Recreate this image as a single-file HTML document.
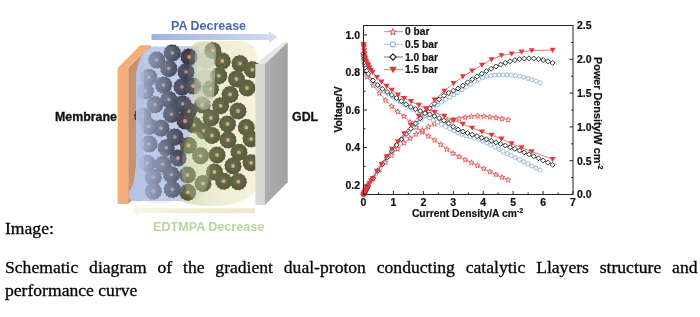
<!DOCTYPE html>
<html><head><meta charset="utf-8"><style>
html,body{margin:0;padding:0;background:#fff;}
body{width:700px;height:317px;position:relative;overflow:hidden;}
svg,.cap{will-change:transform;}
.cap{position:absolute;font-family:"Liberation Serif",serif;color:#000;-webkit-text-stroke:0.3px #000;}
</style></head><body>
<svg width="700" height="240" viewBox="0 0 700 240" style="position:absolute;left:0;top:0"><g><polyline points="363.50,53.67 364.40,62.18 365.60,71.65 367.09,76.63 373.23,85.20 379.36,92.93 385.50,99.95 391.63,106.06 397.77,111.46 403.90,116.04 410.04,121.80 416.17,127.11 422.31,131.75 428.44,135.93 434.58,139.87 440.72,144.29 446.85,149.02 452.99,153.17 459.12,156.44 465.26,159.45 471.39,162.35 477.53,165.27 483.66,168.40 489.80,171.46 495.93,174.32 502.07,177.06 508.20,179.66" fill="none" stroke="#dc4848" stroke-width="0.7"/><polyline points="363.50,194.50 364.40,192.77 365.60,190.69 367.09,188.19 373.23,178.42 379.36,169.75 385.50,162.03 391.63,155.04 397.77,148.66 403.90,142.68 410.04,138.03 416.17,133.96 422.31,130.19 428.44,126.74 434.58,123.71 440.72,121.71 446.85,120.66 452.99,119.69 459.12,118.33 465.26,117.12 471.39,116.22 477.53,115.78 483.66,116.07 489.80,116.70 495.93,117.48 502.07,118.48 508.20,119.65" fill="none" stroke="#dc4848" stroke-width="0.7"/><path d="M363.50,51.17 L364.21,53.00 L366.16,53.10 L364.64,54.34 L365.15,56.23 L363.50,55.17 L361.85,56.23 L362.36,54.34 L360.84,53.10 L362.79,53.00Z" fill="#fff" fill-opacity="0.6" stroke="#dc4848" stroke-width="0.8"/><path d="M363.50,192.00 L364.21,193.83 L366.16,193.93 L364.64,195.17 L365.15,197.07 L363.50,196.00 L361.85,197.07 L362.36,195.17 L360.84,193.93 L362.79,193.83Z" fill="#fff" fill-opacity="0.6" stroke="#dc4848" stroke-width="0.8"/><path d="M364.40,59.68 L365.10,61.51 L367.06,61.61 L365.54,62.85 L366.04,64.74 L364.40,63.68 L362.75,64.74 L363.26,62.85 L361.73,61.61 L363.69,61.51Z" fill="#fff" fill-opacity="0.6" stroke="#dc4848" stroke-width="0.8"/><path d="M364.40,190.27 L365.10,192.10 L367.06,192.20 L365.54,193.44 L366.04,195.33 L364.40,194.27 L362.75,195.33 L363.26,193.44 L361.73,192.20 L363.69,192.10Z" fill="#fff" fill-opacity="0.6" stroke="#dc4848" stroke-width="0.8"/><path d="M365.60,69.15 L366.30,70.98 L368.26,71.08 L366.74,72.32 L367.24,74.21 L365.60,73.15 L363.95,74.21 L364.45,72.32 L362.93,71.08 L364.89,70.98Z" fill="#fff" fill-opacity="0.6" stroke="#dc4848" stroke-width="0.8"/><path d="M365.60,188.19 L366.30,190.02 L368.26,190.13 L366.74,191.37 L367.24,193.26 L365.60,192.19 L363.95,193.26 L364.45,191.37 L362.93,190.13 L364.89,190.02Z" fill="#fff" fill-opacity="0.6" stroke="#dc4848" stroke-width="0.8"/><path d="M367.09,74.13 L367.80,75.96 L369.75,76.06 L368.23,77.30 L368.74,79.19 L367.09,78.13 L365.45,79.19 L365.95,77.30 L364.43,76.06 L366.39,75.96Z" fill="#fff" fill-opacity="0.6" stroke="#dc4848" stroke-width="0.8"/><path d="M367.09,185.69 L367.80,187.52 L369.75,187.63 L368.23,188.86 L368.74,190.76 L367.09,189.69 L365.45,190.76 L365.95,188.86 L364.43,187.63 L366.39,187.52Z" fill="#fff" fill-opacity="0.6" stroke="#dc4848" stroke-width="0.8"/><path d="M373.23,82.70 L373.93,84.53 L375.89,84.63 L374.37,85.87 L374.87,87.76 L373.23,86.70 L371.58,87.76 L372.09,85.87 L370.56,84.63 L372.52,84.53Z" fill="#fff" fill-opacity="0.6" stroke="#dc4848" stroke-width="0.8"/><path d="M373.23,175.92 L373.93,177.75 L375.89,177.85 L374.37,179.09 L374.87,180.98 L373.23,179.92 L371.58,180.98 L372.09,179.09 L370.56,177.85 L372.52,177.75Z" fill="#fff" fill-opacity="0.6" stroke="#dc4848" stroke-width="0.8"/><path d="M379.36,90.43 L380.07,92.26 L382.03,92.37 L380.50,93.60 L381.01,95.50 L379.36,94.43 L377.72,95.50 L378.22,93.60 L376.70,92.37 L378.66,92.26Z" fill="#fff" fill-opacity="0.6" stroke="#dc4848" stroke-width="0.8"/><path d="M379.36,167.25 L380.07,169.08 L382.03,169.18 L380.50,170.42 L381.01,172.31 L379.36,171.25 L377.72,172.31 L378.22,170.42 L376.70,169.18 L378.66,169.08Z" fill="#fff" fill-opacity="0.6" stroke="#dc4848" stroke-width="0.8"/><path d="M385.50,97.45 L386.20,99.28 L388.16,99.38 L386.64,100.62 L387.14,102.51 L385.50,101.45 L383.85,102.51 L384.36,100.62 L382.83,99.38 L384.79,99.28Z" fill="#fff" fill-opacity="0.6" stroke="#dc4848" stroke-width="0.8"/><path d="M385.50,159.53 L386.20,161.36 L388.16,161.46 L386.64,162.70 L387.14,164.59 L385.50,163.53 L383.85,164.59 L384.36,162.70 L382.83,161.46 L384.79,161.36Z" fill="#fff" fill-opacity="0.6" stroke="#dc4848" stroke-width="0.8"/><path d="M391.63,103.56 L392.34,105.39 L394.30,105.50 L392.77,106.74 L393.28,108.63 L391.63,107.56 L389.99,108.63 L390.49,106.74 L388.97,105.50 L390.93,105.39Z" fill="#fff" fill-opacity="0.6" stroke="#dc4848" stroke-width="0.8"/><path d="M391.63,152.54 L392.34,154.37 L394.30,154.48 L392.77,155.71 L393.28,157.61 L391.63,156.54 L389.99,157.61 L390.49,155.71 L388.97,154.48 L390.93,154.37Z" fill="#fff" fill-opacity="0.6" stroke="#dc4848" stroke-width="0.8"/><path d="M397.77,108.96 L398.47,110.79 L400.43,110.89 L398.91,112.13 L399.41,114.02 L397.77,112.96 L396.12,114.02 L396.63,112.13 L395.11,110.89 L397.06,110.79Z" fill="#fff" fill-opacity="0.6" stroke="#dc4848" stroke-width="0.8"/><path d="M397.77,146.16 L398.47,147.99 L400.43,148.09 L398.91,149.33 L399.41,151.23 L397.77,150.16 L396.12,151.23 L396.63,149.33 L395.11,148.09 L397.06,147.99Z" fill="#fff" fill-opacity="0.6" stroke="#dc4848" stroke-width="0.8"/><path d="M403.90,113.54 L404.61,115.37 L406.57,115.47 L405.04,116.71 L405.55,118.60 L403.90,117.54 L402.26,118.60 L402.76,116.71 L401.24,115.47 L403.20,115.37Z" fill="#fff" fill-opacity="0.6" stroke="#dc4848" stroke-width="0.8"/><path d="M403.90,140.18 L404.61,142.01 L406.57,142.11 L405.04,143.35 L405.55,145.24 L403.90,144.18 L402.26,145.24 L402.76,143.35 L401.24,142.11 L403.20,142.01Z" fill="#fff" fill-opacity="0.6" stroke="#dc4848" stroke-width="0.8"/><path d="M410.04,119.30 L410.74,121.13 L412.70,121.23 L411.18,122.47 L411.68,124.37 L410.04,123.30 L408.39,124.37 L408.90,122.47 L407.38,121.23 L409.33,121.13Z" fill="#fff" fill-opacity="0.6" stroke="#dc4848" stroke-width="0.8"/><path d="M410.04,135.53 L410.74,137.36 L412.70,137.47 L411.18,138.71 L411.68,140.60 L410.04,139.53 L408.39,140.60 L408.90,138.71 L407.38,137.47 L409.33,137.36Z" fill="#fff" fill-opacity="0.6" stroke="#dc4848" stroke-width="0.8"/><path d="M416.17,124.61 L416.88,126.44 L418.84,126.55 L417.32,127.79 L417.82,129.68 L416.17,128.61 L414.53,129.68 L415.03,127.79 L413.51,126.55 L415.47,126.44Z" fill="#fff" fill-opacity="0.6" stroke="#dc4848" stroke-width="0.8"/><path d="M416.17,131.46 L416.88,133.29 L418.84,133.39 L417.32,134.63 L417.82,136.52 L416.17,135.46 L414.53,136.52 L415.03,134.63 L413.51,133.39 L415.47,133.29Z" fill="#fff" fill-opacity="0.6" stroke="#dc4848" stroke-width="0.8"/><path d="M422.31,129.25 L423.01,131.08 L424.97,131.19 L423.45,132.43 L423.96,134.32 L422.31,133.25 L420.66,134.32 L421.17,132.43 L419.65,131.19 L421.60,131.08Z" fill="#fff" fill-opacity="0.6" stroke="#dc4848" stroke-width="0.8"/><path d="M422.31,127.69 L423.01,129.52 L424.97,129.62 L423.45,130.86 L423.96,132.75 L422.31,131.69 L420.66,132.75 L421.17,130.86 L419.65,129.62 L421.60,129.52Z" fill="#fff" fill-opacity="0.6" stroke="#dc4848" stroke-width="0.8"/><path d="M428.44,133.43 L429.15,135.26 L431.11,135.37 L429.59,136.60 L430.09,138.50 L428.44,137.43 L426.80,138.50 L427.30,136.60 L425.78,135.37 L427.74,135.26Z" fill="#fff" fill-opacity="0.6" stroke="#dc4848" stroke-width="0.8"/><path d="M428.44,124.24 L429.15,126.07 L431.11,126.18 L429.59,127.41 L430.09,129.31 L428.44,128.24 L426.80,129.31 L427.30,127.41 L425.78,126.18 L427.74,126.07Z" fill="#fff" fill-opacity="0.6" stroke="#dc4848" stroke-width="0.8"/><path d="M434.58,137.37 L435.29,139.20 L437.24,139.30 L435.72,140.54 L436.23,142.43 L434.58,141.37 L432.93,142.43 L433.44,140.54 L431.92,139.30 L433.88,139.20Z" fill="#fff" fill-opacity="0.6" stroke="#dc4848" stroke-width="0.8"/><path d="M434.58,121.21 L435.29,123.04 L437.24,123.14 L435.72,124.38 L436.23,126.27 L434.58,125.21 L432.93,126.27 L433.44,124.38 L431.92,123.14 L433.88,123.04Z" fill="#fff" fill-opacity="0.6" stroke="#dc4848" stroke-width="0.8"/><path d="M440.72,141.79 L441.42,143.62 L443.38,143.73 L441.86,144.96 L442.36,146.86 L440.72,145.79 L439.07,146.86 L439.57,144.96 L438.05,143.73 L440.01,143.62Z" fill="#fff" fill-opacity="0.6" stroke="#dc4848" stroke-width="0.8"/><path d="M440.72,119.21 L441.42,121.03 L443.38,121.14 L441.86,122.38 L442.36,124.27 L440.72,123.21 L439.07,124.27 L439.57,122.38 L438.05,121.14 L440.01,121.03Z" fill="#fff" fill-opacity="0.6" stroke="#dc4848" stroke-width="0.8"/><path d="M446.85,146.52 L447.56,148.35 L449.51,148.46 L447.99,149.69 L448.50,151.59 L446.85,150.52 L445.21,151.59 L445.71,149.69 L444.19,148.46 L446.15,148.35Z" fill="#fff" fill-opacity="0.6" stroke="#dc4848" stroke-width="0.8"/><path d="M446.85,118.16 L447.56,119.99 L449.51,120.10 L447.99,121.33 L448.50,123.23 L446.85,122.16 L445.21,123.23 L445.71,121.33 L444.19,120.10 L446.15,119.99Z" fill="#fff" fill-opacity="0.6" stroke="#dc4848" stroke-width="0.8"/><path d="M452.99,150.67 L453.69,152.50 L455.65,152.60 L454.13,153.84 L454.63,155.73 L452.99,154.67 L451.34,155.73 L451.85,153.84 L450.32,152.60 L452.28,152.50Z" fill="#fff" fill-opacity="0.6" stroke="#dc4848" stroke-width="0.8"/><path d="M452.99,117.19 L453.69,119.02 L455.65,119.13 L454.13,120.36 L454.63,122.26 L452.99,121.19 L451.34,122.26 L451.85,120.36 L450.32,119.13 L452.28,119.02Z" fill="#fff" fill-opacity="0.6" stroke="#dc4848" stroke-width="0.8"/><path d="M459.12,153.94 L459.83,155.77 L461.78,155.88 L460.26,157.11 L460.77,159.01 L459.12,157.94 L457.48,159.01 L457.98,157.11 L456.46,155.88 L458.42,155.77Z" fill="#fff" fill-opacity="0.6" stroke="#dc4848" stroke-width="0.8"/><path d="M459.12,115.83 L459.83,117.66 L461.78,117.77 L460.26,119.00 L460.77,120.90 L459.12,119.83 L457.48,120.90 L457.98,119.00 L456.46,117.77 L458.42,117.66Z" fill="#fff" fill-opacity="0.6" stroke="#dc4848" stroke-width="0.8"/><path d="M465.26,156.95 L465.96,158.78 L467.92,158.89 L466.40,160.12 L466.90,162.02 L465.26,160.95 L463.61,162.02 L464.12,160.12 L462.59,158.89 L464.55,158.78Z" fill="#fff" fill-opacity="0.6" stroke="#dc4848" stroke-width="0.8"/><path d="M465.26,114.62 L465.96,116.45 L467.92,116.56 L466.40,117.79 L466.90,119.69 L465.26,118.62 L463.61,119.69 L464.12,117.79 L462.59,116.56 L464.55,116.45Z" fill="#fff" fill-opacity="0.6" stroke="#dc4848" stroke-width="0.8"/><path d="M471.39,159.85 L472.10,161.68 L474.06,161.78 L472.53,163.02 L473.04,164.91 L471.39,163.85 L469.75,164.91 L470.25,163.02 L468.73,161.78 L470.69,161.68Z" fill="#fff" fill-opacity="0.6" stroke="#dc4848" stroke-width="0.8"/><path d="M471.39,113.72 L472.10,115.55 L474.06,115.65 L472.53,116.89 L473.04,118.78 L471.39,117.72 L469.75,118.78 L470.25,116.89 L468.73,115.65 L470.69,115.55Z" fill="#fff" fill-opacity="0.6" stroke="#dc4848" stroke-width="0.8"/><path d="M477.53,162.77 L478.23,164.60 L480.19,164.71 L478.67,165.94 L479.17,167.84 L477.53,166.77 L475.88,167.84 L476.39,165.94 L474.86,164.71 L476.82,164.60Z" fill="#fff" fill-opacity="0.6" stroke="#dc4848" stroke-width="0.8"/><path d="M477.53,113.28 L478.23,115.11 L480.19,115.21 L478.67,116.45 L479.17,118.35 L477.53,117.28 L475.88,118.35 L476.39,116.45 L474.86,115.21 L476.82,115.11Z" fill="#fff" fill-opacity="0.6" stroke="#dc4848" stroke-width="0.8"/><path d="M483.66,165.90 L484.37,167.73 L486.33,167.84 L484.80,169.07 L485.31,170.97 L483.66,169.90 L482.02,170.97 L482.52,169.07 L481.00,167.84 L482.96,167.73Z" fill="#fff" fill-opacity="0.6" stroke="#dc4848" stroke-width="0.8"/><path d="M483.66,113.57 L484.37,115.40 L486.33,115.50 L484.80,116.74 L485.31,118.63 L483.66,117.57 L482.02,118.63 L482.52,116.74 L481.00,115.50 L482.96,115.40Z" fill="#fff" fill-opacity="0.6" stroke="#dc4848" stroke-width="0.8"/><path d="M489.80,168.96 L490.50,170.79 L492.46,170.89 L490.94,172.13 L491.44,174.02 L489.80,172.96 L488.15,174.02 L488.66,172.13 L487.14,170.89 L489.09,170.79Z" fill="#fff" fill-opacity="0.6" stroke="#dc4848" stroke-width="0.8"/><path d="M489.80,114.20 L490.50,116.03 L492.46,116.14 L490.94,117.37 L491.44,119.27 L489.80,118.20 L488.15,119.27 L488.66,117.37 L487.14,116.14 L489.09,116.03Z" fill="#fff" fill-opacity="0.6" stroke="#dc4848" stroke-width="0.8"/><path d="M495.93,171.82 L496.64,173.64 L498.60,173.75 L497.08,174.99 L497.58,176.88 L495.93,175.82 L494.29,176.88 L494.79,174.99 L493.27,173.75 L495.23,173.64Z" fill="#fff" fill-opacity="0.6" stroke="#dc4848" stroke-width="0.8"/><path d="M495.93,114.98 L496.64,116.81 L498.60,116.91 L497.08,118.15 L497.58,120.04 L495.93,118.98 L494.29,120.04 L494.79,118.15 L493.27,116.91 L495.23,116.81Z" fill="#fff" fill-opacity="0.6" stroke="#dc4848" stroke-width="0.8"/><path d="M502.07,174.56 L502.77,176.38 L504.73,176.49 L503.21,177.73 L503.72,179.62 L502.07,178.56 L500.42,179.62 L500.93,177.73 L499.41,176.49 L501.36,176.38Z" fill="#fff" fill-opacity="0.6" stroke="#dc4848" stroke-width="0.8"/><path d="M502.07,115.98 L502.77,117.80 L504.73,117.91 L503.21,119.15 L503.72,121.04 L502.07,119.98 L500.42,121.04 L500.93,119.15 L499.41,117.91 L501.36,117.80Z" fill="#fff" fill-opacity="0.6" stroke="#dc4848" stroke-width="0.8"/><path d="M508.20,177.16 L508.91,178.99 L510.87,179.10 L509.35,180.34 L509.85,182.23 L508.20,181.16 L506.56,182.23 L507.06,180.34 L505.54,179.10 L507.50,178.99Z" fill="#fff" fill-opacity="0.6" stroke="#dc4848" stroke-width="0.8"/><path d="M508.20,117.15 L508.91,118.98 L510.87,119.09 L509.35,120.32 L509.85,122.22 L508.20,121.15 L506.56,122.22 L507.06,120.32 L505.54,119.09 L507.50,118.98Z" fill="#fff" fill-opacity="0.6" stroke="#dc4848" stroke-width="0.8"/><polyline points="363.50,57.42 363.80,59.61 364.10,61.74 364.70,65.44 365.30,67.94 365.89,69.98 366.79,72.58 367.61,74.52 371.71,80.72 375.82,84.68 379.93,88.04 384.03,91.09 388.14,93.82 392.25,96.44 396.35,99.13 400.46,101.85 404.56,104.51 408.67,107.05 412.78,109.43 416.88,111.68 420.99,113.83 425.10,115.93 429.20,117.99 433.31,120.04 437.42,122.12 441.52,124.27 445.63,126.53 449.74,128.78 453.84,130.92 457.95,132.83 462.06,134.42 466.16,135.68 470.27,136.79 474.37,137.95 478.48,139.35 482.59,141.05 486.69,142.97 490.80,145.05 494.91,147.21 499.01,149.39 503.12,151.50 507.23,153.54 511.33,155.59 515.44,157.64 519.55,159.70 523.65,161.76 527.76,163.83 531.87,165.91 535.97,168.00 540.08,170.09" fill="none" stroke="#8cb6d6" stroke-width="0.7"/><polyline points="363.50,194.50 363.80,193.91 364.10,193.34 364.70,192.24 365.30,191.16 365.89,190.10 366.79,188.56 367.61,187.18 371.71,180.48 375.82,174.05 379.93,167.90 384.03,162.00 388.14,156.31 392.25,150.85 396.35,145.68 400.46,140.79 404.56,136.14 408.67,131.68 412.78,127.38 416.88,123.23 420.99,119.24 425.10,115.41 429.20,111.77 433.31,108.32 437.42,105.10 441.52,102.16 445.63,99.53 449.74,97.11 453.84,94.80 457.95,92.44 462.06,89.88 466.16,87.08 470.27,84.21 474.37,81.52 478.48,79.27 482.59,77.59 486.69,76.41 490.80,75.65 494.91,75.23 499.01,75.05 503.12,74.98 507.23,75.00 511.33,75.22 515.44,75.66 519.55,76.31 523.65,77.18 527.76,78.26 531.87,79.56 535.97,81.08 540.08,82.82" fill="none" stroke="#8cb6d6" stroke-width="0.7"/><circle cx="363.50" cy="57.42" r="2.05" fill="#fff" stroke="#8cb6d6" stroke-width="0.9"/><circle cx="363.50" cy="194.50" r="2.05" fill="#fff" stroke="#8cb6d6" stroke-width="0.9"/><circle cx="363.80" cy="59.61" r="2.05" fill="#fff" stroke="#8cb6d6" stroke-width="0.9"/><circle cx="363.80" cy="193.91" r="2.05" fill="#fff" stroke="#8cb6d6" stroke-width="0.9"/><circle cx="364.10" cy="61.74" r="2.05" fill="#fff" stroke="#8cb6d6" stroke-width="0.9"/><circle cx="364.10" cy="193.34" r="2.05" fill="#fff" stroke="#8cb6d6" stroke-width="0.9"/><circle cx="364.70" cy="65.44" r="2.05" fill="#fff" stroke="#8cb6d6" stroke-width="0.9"/><circle cx="364.70" cy="192.24" r="2.05" fill="#fff" stroke="#8cb6d6" stroke-width="0.9"/><circle cx="365.30" cy="67.94" r="2.05" fill="#fff" stroke="#8cb6d6" stroke-width="0.9"/><circle cx="365.30" cy="191.16" r="2.05" fill="#fff" stroke="#8cb6d6" stroke-width="0.9"/><circle cx="365.89" cy="69.98" r="2.05" fill="#fff" stroke="#8cb6d6" stroke-width="0.9"/><circle cx="365.89" cy="190.10" r="2.05" fill="#fff" stroke="#8cb6d6" stroke-width="0.9"/><circle cx="366.79" cy="72.58" r="2.05" fill="#fff" stroke="#8cb6d6" stroke-width="0.9"/><circle cx="366.79" cy="188.56" r="2.05" fill="#fff" stroke="#8cb6d6" stroke-width="0.9"/><circle cx="367.61" cy="74.52" r="2.05" fill="#fff" stroke="#8cb6d6" stroke-width="0.9"/><circle cx="367.61" cy="187.18" r="2.05" fill="#fff" stroke="#8cb6d6" stroke-width="0.9"/><circle cx="371.71" cy="80.72" r="2.05" fill="#fff" stroke="#8cb6d6" stroke-width="0.9"/><circle cx="371.71" cy="180.48" r="2.05" fill="#fff" stroke="#8cb6d6" stroke-width="0.9"/><circle cx="375.82" cy="84.68" r="2.05" fill="#fff" stroke="#8cb6d6" stroke-width="0.9"/><circle cx="375.82" cy="174.05" r="2.05" fill="#fff" stroke="#8cb6d6" stroke-width="0.9"/><circle cx="379.93" cy="88.04" r="2.05" fill="#fff" stroke="#8cb6d6" stroke-width="0.9"/><circle cx="379.93" cy="167.90" r="2.05" fill="#fff" stroke="#8cb6d6" stroke-width="0.9"/><circle cx="384.03" cy="91.09" r="2.05" fill="#fff" stroke="#8cb6d6" stroke-width="0.9"/><circle cx="384.03" cy="162.00" r="2.05" fill="#fff" stroke="#8cb6d6" stroke-width="0.9"/><circle cx="388.14" cy="93.82" r="2.05" fill="#fff" stroke="#8cb6d6" stroke-width="0.9"/><circle cx="388.14" cy="156.31" r="2.05" fill="#fff" stroke="#8cb6d6" stroke-width="0.9"/><circle cx="392.25" cy="96.44" r="2.05" fill="#fff" stroke="#8cb6d6" stroke-width="0.9"/><circle cx="392.25" cy="150.85" r="2.05" fill="#fff" stroke="#8cb6d6" stroke-width="0.9"/><circle cx="396.35" cy="99.13" r="2.05" fill="#fff" stroke="#8cb6d6" stroke-width="0.9"/><circle cx="396.35" cy="145.68" r="2.05" fill="#fff" stroke="#8cb6d6" stroke-width="0.9"/><circle cx="400.46" cy="101.85" r="2.05" fill="#fff" stroke="#8cb6d6" stroke-width="0.9"/><circle cx="400.46" cy="140.79" r="2.05" fill="#fff" stroke="#8cb6d6" stroke-width="0.9"/><circle cx="404.56" cy="104.51" r="2.05" fill="#fff" stroke="#8cb6d6" stroke-width="0.9"/><circle cx="404.56" cy="136.14" r="2.05" fill="#fff" stroke="#8cb6d6" stroke-width="0.9"/><circle cx="408.67" cy="107.05" r="2.05" fill="#fff" stroke="#8cb6d6" stroke-width="0.9"/><circle cx="408.67" cy="131.68" r="2.05" fill="#fff" stroke="#8cb6d6" stroke-width="0.9"/><circle cx="412.78" cy="109.43" r="2.05" fill="#fff" stroke="#8cb6d6" stroke-width="0.9"/><circle cx="412.78" cy="127.38" r="2.05" fill="#fff" stroke="#8cb6d6" stroke-width="0.9"/><circle cx="416.88" cy="111.68" r="2.05" fill="#fff" stroke="#8cb6d6" stroke-width="0.9"/><circle cx="416.88" cy="123.23" r="2.05" fill="#fff" stroke="#8cb6d6" stroke-width="0.9"/><circle cx="420.99" cy="113.83" r="2.05" fill="#fff" stroke="#8cb6d6" stroke-width="0.9"/><circle cx="420.99" cy="119.24" r="2.05" fill="#fff" stroke="#8cb6d6" stroke-width="0.9"/><circle cx="425.10" cy="115.93" r="2.05" fill="#fff" stroke="#8cb6d6" stroke-width="0.9"/><circle cx="425.10" cy="115.41" r="2.05" fill="#fff" stroke="#8cb6d6" stroke-width="0.9"/><circle cx="429.20" cy="117.99" r="2.05" fill="#fff" stroke="#8cb6d6" stroke-width="0.9"/><circle cx="429.20" cy="111.77" r="2.05" fill="#fff" stroke="#8cb6d6" stroke-width="0.9"/><circle cx="433.31" cy="120.04" r="2.05" fill="#fff" stroke="#8cb6d6" stroke-width="0.9"/><circle cx="433.31" cy="108.32" r="2.05" fill="#fff" stroke="#8cb6d6" stroke-width="0.9"/><circle cx="437.42" cy="122.12" r="2.05" fill="#fff" stroke="#8cb6d6" stroke-width="0.9"/><circle cx="437.42" cy="105.10" r="2.05" fill="#fff" stroke="#8cb6d6" stroke-width="0.9"/><circle cx="441.52" cy="124.27" r="2.05" fill="#fff" stroke="#8cb6d6" stroke-width="0.9"/><circle cx="441.52" cy="102.16" r="2.05" fill="#fff" stroke="#8cb6d6" stroke-width="0.9"/><circle cx="445.63" cy="126.53" r="2.05" fill="#fff" stroke="#8cb6d6" stroke-width="0.9"/><circle cx="445.63" cy="99.53" r="2.05" fill="#fff" stroke="#8cb6d6" stroke-width="0.9"/><circle cx="449.74" cy="128.78" r="2.05" fill="#fff" stroke="#8cb6d6" stroke-width="0.9"/><circle cx="449.74" cy="97.11" r="2.05" fill="#fff" stroke="#8cb6d6" stroke-width="0.9"/><circle cx="453.84" cy="130.92" r="2.05" fill="#fff" stroke="#8cb6d6" stroke-width="0.9"/><circle cx="453.84" cy="94.80" r="2.05" fill="#fff" stroke="#8cb6d6" stroke-width="0.9"/><circle cx="457.95" cy="132.83" r="2.05" fill="#fff" stroke="#8cb6d6" stroke-width="0.9"/><circle cx="457.95" cy="92.44" r="2.05" fill="#fff" stroke="#8cb6d6" stroke-width="0.9"/><circle cx="462.06" cy="134.42" r="2.05" fill="#fff" stroke="#8cb6d6" stroke-width="0.9"/><circle cx="462.06" cy="89.88" r="2.05" fill="#fff" stroke="#8cb6d6" stroke-width="0.9"/><circle cx="466.16" cy="135.68" r="2.05" fill="#fff" stroke="#8cb6d6" stroke-width="0.9"/><circle cx="466.16" cy="87.08" r="2.05" fill="#fff" stroke="#8cb6d6" stroke-width="0.9"/><circle cx="470.27" cy="136.79" r="2.05" fill="#fff" stroke="#8cb6d6" stroke-width="0.9"/><circle cx="470.27" cy="84.21" r="2.05" fill="#fff" stroke="#8cb6d6" stroke-width="0.9"/><circle cx="474.37" cy="137.95" r="2.05" fill="#fff" stroke="#8cb6d6" stroke-width="0.9"/><circle cx="474.37" cy="81.52" r="2.05" fill="#fff" stroke="#8cb6d6" stroke-width="0.9"/><circle cx="478.48" cy="139.35" r="2.05" fill="#fff" stroke="#8cb6d6" stroke-width="0.9"/><circle cx="478.48" cy="79.27" r="2.05" fill="#fff" stroke="#8cb6d6" stroke-width="0.9"/><circle cx="482.59" cy="141.05" r="2.05" fill="#fff" stroke="#8cb6d6" stroke-width="0.9"/><circle cx="482.59" cy="77.59" r="2.05" fill="#fff" stroke="#8cb6d6" stroke-width="0.9"/><circle cx="486.69" cy="142.97" r="2.05" fill="#fff" stroke="#8cb6d6" stroke-width="0.9"/><circle cx="486.69" cy="76.41" r="2.05" fill="#fff" stroke="#8cb6d6" stroke-width="0.9"/><circle cx="490.80" cy="145.05" r="2.05" fill="#fff" stroke="#8cb6d6" stroke-width="0.9"/><circle cx="490.80" cy="75.65" r="2.05" fill="#fff" stroke="#8cb6d6" stroke-width="0.9"/><circle cx="494.91" cy="147.21" r="2.05" fill="#fff" stroke="#8cb6d6" stroke-width="0.9"/><circle cx="494.91" cy="75.23" r="2.05" fill="#fff" stroke="#8cb6d6" stroke-width="0.9"/><circle cx="499.01" cy="149.39" r="2.05" fill="#fff" stroke="#8cb6d6" stroke-width="0.9"/><circle cx="499.01" cy="75.05" r="2.05" fill="#fff" stroke="#8cb6d6" stroke-width="0.9"/><circle cx="503.12" cy="151.50" r="2.05" fill="#fff" stroke="#8cb6d6" stroke-width="0.9"/><circle cx="503.12" cy="74.98" r="2.05" fill="#fff" stroke="#8cb6d6" stroke-width="0.9"/><circle cx="507.23" cy="153.54" r="2.05" fill="#fff" stroke="#8cb6d6" stroke-width="0.9"/><circle cx="507.23" cy="75.00" r="2.05" fill="#fff" stroke="#8cb6d6" stroke-width="0.9"/><circle cx="511.33" cy="155.59" r="2.05" fill="#fff" stroke="#8cb6d6" stroke-width="0.9"/><circle cx="511.33" cy="75.22" r="2.05" fill="#fff" stroke="#8cb6d6" stroke-width="0.9"/><circle cx="515.44" cy="157.64" r="2.05" fill="#fff" stroke="#8cb6d6" stroke-width="0.9"/><circle cx="515.44" cy="75.66" r="2.05" fill="#fff" stroke="#8cb6d6" stroke-width="0.9"/><circle cx="519.55" cy="159.70" r="2.05" fill="#fff" stroke="#8cb6d6" stroke-width="0.9"/><circle cx="519.55" cy="76.31" r="2.05" fill="#fff" stroke="#8cb6d6" stroke-width="0.9"/><circle cx="523.65" cy="161.76" r="2.05" fill="#fff" stroke="#8cb6d6" stroke-width="0.9"/><circle cx="523.65" cy="77.18" r="2.05" fill="#fff" stroke="#8cb6d6" stroke-width="0.9"/><circle cx="527.76" cy="163.83" r="2.05" fill="#fff" stroke="#8cb6d6" stroke-width="0.9"/><circle cx="527.76" cy="78.26" r="2.05" fill="#fff" stroke="#8cb6d6" stroke-width="0.9"/><circle cx="531.87" cy="165.91" r="2.05" fill="#fff" stroke="#8cb6d6" stroke-width="0.9"/><circle cx="531.87" cy="79.56" r="2.05" fill="#fff" stroke="#8cb6d6" stroke-width="0.9"/><circle cx="535.97" cy="168.00" r="2.05" fill="#fff" stroke="#8cb6d6" stroke-width="0.9"/><circle cx="535.97" cy="81.08" r="2.05" fill="#fff" stroke="#8cb6d6" stroke-width="0.9"/><circle cx="540.08" cy="170.09" r="2.05" fill="#fff" stroke="#8cb6d6" stroke-width="0.9"/><circle cx="540.08" cy="82.82" r="2.05" fill="#fff" stroke="#8cb6d6" stroke-width="0.9"/><polyline points="363.50,53.67 363.80,56.34 364.10,58.95 364.70,63.40 365.30,66.12 365.89,68.23 366.79,70.81 368.23,73.88 372.96,80.55 377.69,85.05 382.41,88.83 387.14,91.99 391.87,94.91 396.60,97.99 401.33,101.21 406.06,104.30 410.79,106.96 415.52,109.13 420.24,111.01 424.97,112.72 429.70,114.39 434.43,116.14 439.16,118.10 443.89,120.44 448.62,123.44 453.35,126.65 458.07,129.51 462.80,131.54 467.53,133.04 472.26,134.62 476.99,136.18 481.72,137.73 486.45,139.27 491.18,140.81 495.90,142.36 500.63,143.92 505.36,145.52 510.09,147.16 514.82,148.84 519.55,150.58 524.28,152.39 529.00,154.28 533.73,156.26 538.46,158.32 543.19,160.45 547.92,162.62 552.65,164.83" fill="none" stroke="#333" stroke-width="0.7"/><polyline points="363.50,194.50 363.80,193.90 364.10,193.32 364.70,192.21 365.30,191.12 365.89,190.05 366.79,188.49 368.23,186.04 372.96,178.33 377.69,171.02 382.41,164.05 387.14,157.34 391.87,150.90 396.60,144.86 401.33,139.23 406.06,133.91 410.79,128.68 415.52,123.46 420.24,118.29 424.97,113.20 429.70,108.28 434.43,103.61 439.16,99.34 443.89,95.65 448.62,92.90 453.35,90.73 458.07,88.53 462.80,85.65 467.53,82.35 472.26,79.31 476.99,76.44 481.72,73.72 486.45,71.16 491.18,68.78 495.90,66.59 500.63,64.61 505.36,62.86 510.09,61.36 514.82,60.13 519.55,59.20 524.28,58.59 529.00,58.36 533.73,58.53 538.46,59.09 543.19,60.01 547.92,61.29 552.65,62.91" fill="none" stroke="#333" stroke-width="0.7"/><path d="M363.50,51.17 l2.5,2.5 -2.5,2.5 -2.5,-2.5z" fill="#fff" stroke="#2a2a2a" stroke-width="0.95"/><path d="M363.50,192.00 l2.5,2.5 -2.5,2.5 -2.5,-2.5z" fill="#fff" stroke="#2a2a2a" stroke-width="0.95"/><path d="M363.80,53.84 l2.5,2.5 -2.5,2.5 -2.5,-2.5z" fill="#fff" stroke="#2a2a2a" stroke-width="0.95"/><path d="M363.80,191.40 l2.5,2.5 -2.5,2.5 -2.5,-2.5z" fill="#fff" stroke="#2a2a2a" stroke-width="0.95"/><path d="M364.10,56.45 l2.5,2.5 -2.5,2.5 -2.5,-2.5z" fill="#fff" stroke="#2a2a2a" stroke-width="0.95"/><path d="M364.10,190.82 l2.5,2.5 -2.5,2.5 -2.5,-2.5z" fill="#fff" stroke="#2a2a2a" stroke-width="0.95"/><path d="M364.70,60.90 l2.5,2.5 -2.5,2.5 -2.5,-2.5z" fill="#fff" stroke="#2a2a2a" stroke-width="0.95"/><path d="M364.70,189.71 l2.5,2.5 -2.5,2.5 -2.5,-2.5z" fill="#fff" stroke="#2a2a2a" stroke-width="0.95"/><path d="M365.30,63.62 l2.5,2.5 -2.5,2.5 -2.5,-2.5z" fill="#fff" stroke="#2a2a2a" stroke-width="0.95"/><path d="M365.30,188.62 l2.5,2.5 -2.5,2.5 -2.5,-2.5z" fill="#fff" stroke="#2a2a2a" stroke-width="0.95"/><path d="M365.89,65.73 l2.5,2.5 -2.5,2.5 -2.5,-2.5z" fill="#fff" stroke="#2a2a2a" stroke-width="0.95"/><path d="M365.89,187.55 l2.5,2.5 -2.5,2.5 -2.5,-2.5z" fill="#fff" stroke="#2a2a2a" stroke-width="0.95"/><path d="M366.79,68.31 l2.5,2.5 -2.5,2.5 -2.5,-2.5z" fill="#fff" stroke="#2a2a2a" stroke-width="0.95"/><path d="M366.79,185.99 l2.5,2.5 -2.5,2.5 -2.5,-2.5z" fill="#fff" stroke="#2a2a2a" stroke-width="0.95"/><path d="M368.23,71.38 l2.5,2.5 -2.5,2.5 -2.5,-2.5z" fill="#fff" stroke="#2a2a2a" stroke-width="0.95"/><path d="M368.23,183.54 l2.5,2.5 -2.5,2.5 -2.5,-2.5z" fill="#fff" stroke="#2a2a2a" stroke-width="0.95"/><path d="M372.96,78.05 l2.5,2.5 -2.5,2.5 -2.5,-2.5z" fill="#fff" stroke="#2a2a2a" stroke-width="0.95"/><path d="M372.96,175.83 l2.5,2.5 -2.5,2.5 -2.5,-2.5z" fill="#fff" stroke="#2a2a2a" stroke-width="0.95"/><path d="M377.69,82.55 l2.5,2.5 -2.5,2.5 -2.5,-2.5z" fill="#fff" stroke="#2a2a2a" stroke-width="0.95"/><path d="M377.69,168.52 l2.5,2.5 -2.5,2.5 -2.5,-2.5z" fill="#fff" stroke="#2a2a2a" stroke-width="0.95"/><path d="M382.41,86.33 l2.5,2.5 -2.5,2.5 -2.5,-2.5z" fill="#fff" stroke="#2a2a2a" stroke-width="0.95"/><path d="M382.41,161.55 l2.5,2.5 -2.5,2.5 -2.5,-2.5z" fill="#fff" stroke="#2a2a2a" stroke-width="0.95"/><path d="M387.14,89.49 l2.5,2.5 -2.5,2.5 -2.5,-2.5z" fill="#fff" stroke="#2a2a2a" stroke-width="0.95"/><path d="M387.14,154.84 l2.5,2.5 -2.5,2.5 -2.5,-2.5z" fill="#fff" stroke="#2a2a2a" stroke-width="0.95"/><path d="M391.87,92.41 l2.5,2.5 -2.5,2.5 -2.5,-2.5z" fill="#fff" stroke="#2a2a2a" stroke-width="0.95"/><path d="M391.87,148.40 l2.5,2.5 -2.5,2.5 -2.5,-2.5z" fill="#fff" stroke="#2a2a2a" stroke-width="0.95"/><path d="M396.60,95.49 l2.5,2.5 -2.5,2.5 -2.5,-2.5z" fill="#fff" stroke="#2a2a2a" stroke-width="0.95"/><path d="M396.60,142.36 l2.5,2.5 -2.5,2.5 -2.5,-2.5z" fill="#fff" stroke="#2a2a2a" stroke-width="0.95"/><path d="M401.33,98.71 l2.5,2.5 -2.5,2.5 -2.5,-2.5z" fill="#fff" stroke="#2a2a2a" stroke-width="0.95"/><path d="M401.33,136.73 l2.5,2.5 -2.5,2.5 -2.5,-2.5z" fill="#fff" stroke="#2a2a2a" stroke-width="0.95"/><path d="M406.06,101.80 l2.5,2.5 -2.5,2.5 -2.5,-2.5z" fill="#fff" stroke="#2a2a2a" stroke-width="0.95"/><path d="M406.06,131.41 l2.5,2.5 -2.5,2.5 -2.5,-2.5z" fill="#fff" stroke="#2a2a2a" stroke-width="0.95"/><path d="M410.79,104.46 l2.5,2.5 -2.5,2.5 -2.5,-2.5z" fill="#fff" stroke="#2a2a2a" stroke-width="0.95"/><path d="M410.79,126.18 l2.5,2.5 -2.5,2.5 -2.5,-2.5z" fill="#fff" stroke="#2a2a2a" stroke-width="0.95"/><path d="M415.52,106.63 l2.5,2.5 -2.5,2.5 -2.5,-2.5z" fill="#fff" stroke="#2a2a2a" stroke-width="0.95"/><path d="M415.52,120.96 l2.5,2.5 -2.5,2.5 -2.5,-2.5z" fill="#fff" stroke="#2a2a2a" stroke-width="0.95"/><path d="M420.24,108.51 l2.5,2.5 -2.5,2.5 -2.5,-2.5z" fill="#fff" stroke="#2a2a2a" stroke-width="0.95"/><path d="M420.24,115.79 l2.5,2.5 -2.5,2.5 -2.5,-2.5z" fill="#fff" stroke="#2a2a2a" stroke-width="0.95"/><path d="M424.97,110.22 l2.5,2.5 -2.5,2.5 -2.5,-2.5z" fill="#fff" stroke="#2a2a2a" stroke-width="0.95"/><path d="M424.97,110.70 l2.5,2.5 -2.5,2.5 -2.5,-2.5z" fill="#fff" stroke="#2a2a2a" stroke-width="0.95"/><path d="M429.70,111.89 l2.5,2.5 -2.5,2.5 -2.5,-2.5z" fill="#fff" stroke="#2a2a2a" stroke-width="0.95"/><path d="M429.70,105.78 l2.5,2.5 -2.5,2.5 -2.5,-2.5z" fill="#fff" stroke="#2a2a2a" stroke-width="0.95"/><path d="M434.43,113.64 l2.5,2.5 -2.5,2.5 -2.5,-2.5z" fill="#fff" stroke="#2a2a2a" stroke-width="0.95"/><path d="M434.43,101.11 l2.5,2.5 -2.5,2.5 -2.5,-2.5z" fill="#fff" stroke="#2a2a2a" stroke-width="0.95"/><path d="M439.16,115.60 l2.5,2.5 -2.5,2.5 -2.5,-2.5z" fill="#fff" stroke="#2a2a2a" stroke-width="0.95"/><path d="M439.16,96.84 l2.5,2.5 -2.5,2.5 -2.5,-2.5z" fill="#fff" stroke="#2a2a2a" stroke-width="0.95"/><path d="M443.89,117.94 l2.5,2.5 -2.5,2.5 -2.5,-2.5z" fill="#fff" stroke="#2a2a2a" stroke-width="0.95"/><path d="M443.89,93.15 l2.5,2.5 -2.5,2.5 -2.5,-2.5z" fill="#fff" stroke="#2a2a2a" stroke-width="0.95"/><path d="M448.62,120.94 l2.5,2.5 -2.5,2.5 -2.5,-2.5z" fill="#fff" stroke="#2a2a2a" stroke-width="0.95"/><path d="M448.62,90.40 l2.5,2.5 -2.5,2.5 -2.5,-2.5z" fill="#fff" stroke="#2a2a2a" stroke-width="0.95"/><path d="M453.35,124.15 l2.5,2.5 -2.5,2.5 -2.5,-2.5z" fill="#fff" stroke="#2a2a2a" stroke-width="0.95"/><path d="M453.35,88.23 l2.5,2.5 -2.5,2.5 -2.5,-2.5z" fill="#fff" stroke="#2a2a2a" stroke-width="0.95"/><path d="M458.07,127.01 l2.5,2.5 -2.5,2.5 -2.5,-2.5z" fill="#fff" stroke="#2a2a2a" stroke-width="0.95"/><path d="M458.07,86.03 l2.5,2.5 -2.5,2.5 -2.5,-2.5z" fill="#fff" stroke="#2a2a2a" stroke-width="0.95"/><path d="M462.80,129.04 l2.5,2.5 -2.5,2.5 -2.5,-2.5z" fill="#fff" stroke="#2a2a2a" stroke-width="0.95"/><path d="M462.80,83.15 l2.5,2.5 -2.5,2.5 -2.5,-2.5z" fill="#fff" stroke="#2a2a2a" stroke-width="0.95"/><path d="M467.53,130.54 l2.5,2.5 -2.5,2.5 -2.5,-2.5z" fill="#fff" stroke="#2a2a2a" stroke-width="0.95"/><path d="M467.53,79.85 l2.5,2.5 -2.5,2.5 -2.5,-2.5z" fill="#fff" stroke="#2a2a2a" stroke-width="0.95"/><path d="M472.26,132.12 l2.5,2.5 -2.5,2.5 -2.5,-2.5z" fill="#fff" stroke="#2a2a2a" stroke-width="0.95"/><path d="M472.26,76.81 l2.5,2.5 -2.5,2.5 -2.5,-2.5z" fill="#fff" stroke="#2a2a2a" stroke-width="0.95"/><path d="M476.99,133.68 l2.5,2.5 -2.5,2.5 -2.5,-2.5z" fill="#fff" stroke="#2a2a2a" stroke-width="0.95"/><path d="M476.99,73.94 l2.5,2.5 -2.5,2.5 -2.5,-2.5z" fill="#fff" stroke="#2a2a2a" stroke-width="0.95"/><path d="M481.72,135.23 l2.5,2.5 -2.5,2.5 -2.5,-2.5z" fill="#fff" stroke="#2a2a2a" stroke-width="0.95"/><path d="M481.72,71.22 l2.5,2.5 -2.5,2.5 -2.5,-2.5z" fill="#fff" stroke="#2a2a2a" stroke-width="0.95"/><path d="M486.45,136.77 l2.5,2.5 -2.5,2.5 -2.5,-2.5z" fill="#fff" stroke="#2a2a2a" stroke-width="0.95"/><path d="M486.45,68.66 l2.5,2.5 -2.5,2.5 -2.5,-2.5z" fill="#fff" stroke="#2a2a2a" stroke-width="0.95"/><path d="M491.18,138.31 l2.5,2.5 -2.5,2.5 -2.5,-2.5z" fill="#fff" stroke="#2a2a2a" stroke-width="0.95"/><path d="M491.18,66.28 l2.5,2.5 -2.5,2.5 -2.5,-2.5z" fill="#fff" stroke="#2a2a2a" stroke-width="0.95"/><path d="M495.90,139.86 l2.5,2.5 -2.5,2.5 -2.5,-2.5z" fill="#fff" stroke="#2a2a2a" stroke-width="0.95"/><path d="M495.90,64.09 l2.5,2.5 -2.5,2.5 -2.5,-2.5z" fill="#fff" stroke="#2a2a2a" stroke-width="0.95"/><path d="M500.63,141.42 l2.5,2.5 -2.5,2.5 -2.5,-2.5z" fill="#fff" stroke="#2a2a2a" stroke-width="0.95"/><path d="M500.63,62.11 l2.5,2.5 -2.5,2.5 -2.5,-2.5z" fill="#fff" stroke="#2a2a2a" stroke-width="0.95"/><path d="M505.36,143.02 l2.5,2.5 -2.5,2.5 -2.5,-2.5z" fill="#fff" stroke="#2a2a2a" stroke-width="0.95"/><path d="M505.36,60.36 l2.5,2.5 -2.5,2.5 -2.5,-2.5z" fill="#fff" stroke="#2a2a2a" stroke-width="0.95"/><path d="M510.09,144.66 l2.5,2.5 -2.5,2.5 -2.5,-2.5z" fill="#fff" stroke="#2a2a2a" stroke-width="0.95"/><path d="M510.09,58.86 l2.5,2.5 -2.5,2.5 -2.5,-2.5z" fill="#fff" stroke="#2a2a2a" stroke-width="0.95"/><path d="M514.82,146.34 l2.5,2.5 -2.5,2.5 -2.5,-2.5z" fill="#fff" stroke="#2a2a2a" stroke-width="0.95"/><path d="M514.82,57.63 l2.5,2.5 -2.5,2.5 -2.5,-2.5z" fill="#fff" stroke="#2a2a2a" stroke-width="0.95"/><path d="M519.55,148.08 l2.5,2.5 -2.5,2.5 -2.5,-2.5z" fill="#fff" stroke="#2a2a2a" stroke-width="0.95"/><path d="M519.55,56.70 l2.5,2.5 -2.5,2.5 -2.5,-2.5z" fill="#fff" stroke="#2a2a2a" stroke-width="0.95"/><path d="M524.28,149.89 l2.5,2.5 -2.5,2.5 -2.5,-2.5z" fill="#fff" stroke="#2a2a2a" stroke-width="0.95"/><path d="M524.28,56.09 l2.5,2.5 -2.5,2.5 -2.5,-2.5z" fill="#fff" stroke="#2a2a2a" stroke-width="0.95"/><path d="M529.00,151.78 l2.5,2.5 -2.5,2.5 -2.5,-2.5z" fill="#fff" stroke="#2a2a2a" stroke-width="0.95"/><path d="M529.00,55.86 l2.5,2.5 -2.5,2.5 -2.5,-2.5z" fill="#fff" stroke="#2a2a2a" stroke-width="0.95"/><path d="M533.73,153.76 l2.5,2.5 -2.5,2.5 -2.5,-2.5z" fill="#fff" stroke="#2a2a2a" stroke-width="0.95"/><path d="M533.73,56.03 l2.5,2.5 -2.5,2.5 -2.5,-2.5z" fill="#fff" stroke="#2a2a2a" stroke-width="0.95"/><path d="M538.46,155.82 l2.5,2.5 -2.5,2.5 -2.5,-2.5z" fill="#fff" stroke="#2a2a2a" stroke-width="0.95"/><path d="M538.46,56.59 l2.5,2.5 -2.5,2.5 -2.5,-2.5z" fill="#fff" stroke="#2a2a2a" stroke-width="0.95"/><path d="M543.19,157.95 l2.5,2.5 -2.5,2.5 -2.5,-2.5z" fill="#fff" stroke="#2a2a2a" stroke-width="0.95"/><path d="M543.19,57.51 l2.5,2.5 -2.5,2.5 -2.5,-2.5z" fill="#fff" stroke="#2a2a2a" stroke-width="0.95"/><path d="M547.92,160.12 l2.5,2.5 -2.5,2.5 -2.5,-2.5z" fill="#fff" stroke="#2a2a2a" stroke-width="0.95"/><path d="M547.92,58.79 l2.5,2.5 -2.5,2.5 -2.5,-2.5z" fill="#fff" stroke="#2a2a2a" stroke-width="0.95"/><path d="M552.65,162.33 l2.5,2.5 -2.5,2.5 -2.5,-2.5z" fill="#fff" stroke="#2a2a2a" stroke-width="0.95"/><path d="M552.65,60.41 l2.5,2.5 -2.5,2.5 -2.5,-2.5z" fill="#fff" stroke="#2a2a2a" stroke-width="0.95"/><polyline points="363.50,44.28 363.65,45.87 363.80,47.47 364.10,50.61 364.40,53.45 364.85,56.71 365.30,58.55 365.89,60.45 366.49,61.97 367.39,63.77 368.29,65.30 369.49,67.46 370.98,70.04 372.48,72.26 376.97,77.39 381.46,81.85 386.55,86.11 391.93,90.05 397.92,94.86 404.20,98.31 411.09,101.34 418.87,105.15 426.35,108.94 434.73,112.18 444.31,116.13 453.58,120.10 462.86,124.08 472.14,127.96 482.02,131.78 491.59,135.08 501.47,138.92 511.65,143.67 521.52,147.66 531.70,151.50 552.65,159.20" fill="none" stroke="#e0393b" stroke-width="0.7"/><polyline points="363.50,194.50 363.65,194.18 363.80,193.87 364.10,193.26 364.40,192.67 364.85,191.81 365.30,190.96 365.89,189.83 366.49,188.71 367.39,187.06 368.29,185.44 369.49,183.33 370.98,180.76 372.48,178.26 376.97,170.96 381.46,164.08 386.55,156.65 391.93,149.15 397.92,141.59 404.20,133.62 411.09,125.05 418.87,116.23 426.35,108.52 434.73,99.83 444.31,90.95 453.58,83.36 462.86,76.67 472.14,70.74 482.02,64.94 491.59,59.55 501.47,55.51 511.65,53.73 521.52,51.92 531.70,50.51 552.65,50.10" fill="none" stroke="#e0393b" stroke-width="0.7"/><path d="M360.50,41.98 h6.0 l-3.0,5.1z" fill="#e0393b"/><path d="M360.50,192.20 h6.0 l-3.0,5.1z" fill="#e0393b"/><path d="M360.65,43.57 h6.0 l-3.0,5.1z" fill="#e0393b"/><path d="M360.65,191.88 h6.0 l-3.0,5.1z" fill="#e0393b"/><path d="M360.80,45.17 h6.0 l-3.0,5.1z" fill="#e0393b"/><path d="M360.80,191.57 h6.0 l-3.0,5.1z" fill="#e0393b"/><path d="M361.10,48.31 h6.0 l-3.0,5.1z" fill="#e0393b"/><path d="M361.10,190.96 h6.0 l-3.0,5.1z" fill="#e0393b"/><path d="M361.40,51.15 h6.0 l-3.0,5.1z" fill="#e0393b"/><path d="M361.40,190.37 h6.0 l-3.0,5.1z" fill="#e0393b"/><path d="M361.85,54.41 h6.0 l-3.0,5.1z" fill="#e0393b"/><path d="M361.85,189.51 h6.0 l-3.0,5.1z" fill="#e0393b"/><path d="M362.30,56.25 h6.0 l-3.0,5.1z" fill="#e0393b"/><path d="M362.30,188.66 h6.0 l-3.0,5.1z" fill="#e0393b"/><path d="M362.89,58.15 h6.0 l-3.0,5.1z" fill="#e0393b"/><path d="M362.89,187.53 h6.0 l-3.0,5.1z" fill="#e0393b"/><path d="M363.49,59.67 h6.0 l-3.0,5.1z" fill="#e0393b"/><path d="M363.49,186.41 h6.0 l-3.0,5.1z" fill="#e0393b"/><path d="M364.39,61.47 h6.0 l-3.0,5.1z" fill="#e0393b"/><path d="M364.39,184.76 h6.0 l-3.0,5.1z" fill="#e0393b"/><path d="M365.29,63.00 h6.0 l-3.0,5.1z" fill="#e0393b"/><path d="M365.29,183.14 h6.0 l-3.0,5.1z" fill="#e0393b"/><path d="M366.49,65.16 h6.0 l-3.0,5.1z" fill="#e0393b"/><path d="M366.49,181.03 h6.0 l-3.0,5.1z" fill="#e0393b"/><path d="M367.98,67.74 h6.0 l-3.0,5.1z" fill="#e0393b"/><path d="M367.98,178.46 h6.0 l-3.0,5.1z" fill="#e0393b"/><path d="M369.48,69.96 h6.0 l-3.0,5.1z" fill="#e0393b"/><path d="M369.48,175.96 h6.0 l-3.0,5.1z" fill="#e0393b"/><path d="M373.97,75.09 h6.0 l-3.0,5.1z" fill="#e0393b"/><path d="M373.97,168.66 h6.0 l-3.0,5.1z" fill="#e0393b"/><path d="M378.46,79.55 h6.0 l-3.0,5.1z" fill="#e0393b"/><path d="M378.46,161.78 h6.0 l-3.0,5.1z" fill="#e0393b"/><path d="M383.55,83.81 h6.0 l-3.0,5.1z" fill="#e0393b"/><path d="M383.55,154.35 h6.0 l-3.0,5.1z" fill="#e0393b"/><path d="M388.93,87.75 h6.0 l-3.0,5.1z" fill="#e0393b"/><path d="M388.93,146.85 h6.0 l-3.0,5.1z" fill="#e0393b"/><path d="M394.92,92.56 h6.0 l-3.0,5.1z" fill="#e0393b"/><path d="M394.92,139.29 h6.0 l-3.0,5.1z" fill="#e0393b"/><path d="M401.20,96.01 h6.0 l-3.0,5.1z" fill="#e0393b"/><path d="M401.20,131.32 h6.0 l-3.0,5.1z" fill="#e0393b"/><path d="M408.09,99.04 h6.0 l-3.0,5.1z" fill="#e0393b"/><path d="M408.09,122.75 h6.0 l-3.0,5.1z" fill="#e0393b"/><path d="M415.87,102.85 h6.0 l-3.0,5.1z" fill="#e0393b"/><path d="M415.87,113.93 h6.0 l-3.0,5.1z" fill="#e0393b"/><path d="M423.35,106.64 h6.0 l-3.0,5.1z" fill="#e0393b"/><path d="M423.35,106.22 h6.0 l-3.0,5.1z" fill="#e0393b"/><path d="M431.73,109.88 h6.0 l-3.0,5.1z" fill="#e0393b"/><path d="M431.73,97.53 h6.0 l-3.0,5.1z" fill="#e0393b"/><path d="M441.31,113.83 h6.0 l-3.0,5.1z" fill="#e0393b"/><path d="M441.31,88.65 h6.0 l-3.0,5.1z" fill="#e0393b"/><path d="M450.58,117.80 h6.0 l-3.0,5.1z" fill="#e0393b"/><path d="M450.58,81.06 h6.0 l-3.0,5.1z" fill="#e0393b"/><path d="M459.86,121.78 h6.0 l-3.0,5.1z" fill="#e0393b"/><path d="M459.86,74.37 h6.0 l-3.0,5.1z" fill="#e0393b"/><path d="M469.14,125.66 h6.0 l-3.0,5.1z" fill="#e0393b"/><path d="M469.14,68.44 h6.0 l-3.0,5.1z" fill="#e0393b"/><path d="M479.02,129.48 h6.0 l-3.0,5.1z" fill="#e0393b"/><path d="M479.02,62.64 h6.0 l-3.0,5.1z" fill="#e0393b"/><path d="M488.59,132.78 h6.0 l-3.0,5.1z" fill="#e0393b"/><path d="M488.59,57.25 h6.0 l-3.0,5.1z" fill="#e0393b"/><path d="M498.47,136.62 h6.0 l-3.0,5.1z" fill="#e0393b"/><path d="M498.47,53.21 h6.0 l-3.0,5.1z" fill="#e0393b"/><path d="M508.65,141.37 h6.0 l-3.0,5.1z" fill="#e0393b"/><path d="M508.65,51.43 h6.0 l-3.0,5.1z" fill="#e0393b"/><path d="M518.52,145.36 h6.0 l-3.0,5.1z" fill="#e0393b"/><path d="M518.52,49.62 h6.0 l-3.0,5.1z" fill="#e0393b"/><path d="M528.70,149.20 h6.0 l-3.0,5.1z" fill="#e0393b"/><path d="M528.70,48.21 h6.0 l-3.0,5.1z" fill="#e0393b"/><path d="M549.65,156.90 h6.0 l-3.0,5.1z" fill="#e0393b"/><path d="M549.65,47.80 h6.0 l-3.0,5.1z" fill="#e0393b"/></g><rect x="363.5" y="25.5" width="209.5" height="169.0" fill="none" stroke="#222" stroke-width="1"/><line x1="363.50" y1="194.5" x2="363.50" y2="191.0" stroke="#222" stroke-width="1"/><line x1="378.46" y1="194.5" x2="378.46" y2="192.5" stroke="#222" stroke-width="1"/><line x1="393.43" y1="194.5" x2="393.43" y2="191.0" stroke="#222" stroke-width="1"/><line x1="408.39" y1="194.5" x2="408.39" y2="192.5" stroke="#222" stroke-width="1"/><line x1="423.36" y1="194.5" x2="423.36" y2="191.0" stroke="#222" stroke-width="1"/><line x1="438.32" y1="194.5" x2="438.32" y2="192.5" stroke="#222" stroke-width="1"/><line x1="453.29" y1="194.5" x2="453.29" y2="191.0" stroke="#222" stroke-width="1"/><line x1="468.25" y1="194.5" x2="468.25" y2="192.5" stroke="#222" stroke-width="1"/><line x1="483.21" y1="194.5" x2="483.21" y2="191.0" stroke="#222" stroke-width="1"/><line x1="498.18" y1="194.5" x2="498.18" y2="192.5" stroke="#222" stroke-width="1"/><line x1="513.14" y1="194.5" x2="513.14" y2="191.0" stroke="#222" stroke-width="1"/><line x1="528.11" y1="194.5" x2="528.11" y2="192.5" stroke="#222" stroke-width="1"/><line x1="543.07" y1="194.5" x2="543.07" y2="191.0" stroke="#222" stroke-width="1"/><line x1="558.04" y1="194.5" x2="558.04" y2="192.5" stroke="#222" stroke-width="1"/><line x1="573.00" y1="194.5" x2="573.00" y2="191.0" stroke="#222" stroke-width="1"/><line x1="363.5" y1="185.11" x2="367.0" y2="185.11" stroke="#222" stroke-width="1"/><line x1="363.5" y1="166.33" x2="365.5" y2="166.33" stroke="#222" stroke-width="1"/><line x1="363.5" y1="147.56" x2="367.0" y2="147.56" stroke="#222" stroke-width="1"/><line x1="363.5" y1="128.78" x2="365.5" y2="128.78" stroke="#222" stroke-width="1"/><line x1="363.5" y1="110.00" x2="367.0" y2="110.00" stroke="#222" stroke-width="1"/><line x1="363.5" y1="91.22" x2="365.5" y2="91.22" stroke="#222" stroke-width="1"/><line x1="363.5" y1="72.44" x2="367.0" y2="72.44" stroke="#222" stroke-width="1"/><line x1="363.5" y1="53.67" x2="365.5" y2="53.67" stroke="#222" stroke-width="1"/><line x1="363.5" y1="34.89" x2="367.0" y2="34.89" stroke="#222" stroke-width="1"/><line x1="573.0" y1="194.50" x2="569.5" y2="194.50" stroke="#222" stroke-width="1"/><line x1="573.0" y1="177.60" x2="571.0" y2="177.60" stroke="#222" stroke-width="1"/><line x1="573.0" y1="160.70" x2="569.5" y2="160.70" stroke="#222" stroke-width="1"/><line x1="573.0" y1="143.80" x2="571.0" y2="143.80" stroke="#222" stroke-width="1"/><line x1="573.0" y1="126.90" x2="569.5" y2="126.90" stroke="#222" stroke-width="1"/><line x1="573.0" y1="110.00" x2="571.0" y2="110.00" stroke="#222" stroke-width="1"/><line x1="573.0" y1="93.10" x2="569.5" y2="93.10" stroke="#222" stroke-width="1"/><line x1="573.0" y1="76.20" x2="571.0" y2="76.20" stroke="#222" stroke-width="1"/><line x1="573.0" y1="59.30" x2="569.5" y2="59.30" stroke="#222" stroke-width="1"/><line x1="573.0" y1="42.40" x2="571.0" y2="42.40" stroke="#222" stroke-width="1"/><line x1="573.0" y1="25.50" x2="569.5" y2="25.50" stroke="#222" stroke-width="1"/><text x="363.50" y="206.3" font-family="Liberation Sans" font-weight="bold" stroke="#111" stroke-width="0.2" font-size="10.5" text-anchor="middle" fill="#111">0</text><text x="393.43" y="206.3" font-family="Liberation Sans" font-weight="bold" stroke="#111" stroke-width="0.2" font-size="10.5" text-anchor="middle" fill="#111">1</text><text x="423.36" y="206.3" font-family="Liberation Sans" font-weight="bold" stroke="#111" stroke-width="0.2" font-size="10.5" text-anchor="middle" fill="#111">2</text><text x="453.29" y="206.3" font-family="Liberation Sans" font-weight="bold" stroke="#111" stroke-width="0.2" font-size="10.5" text-anchor="middle" fill="#111">3</text><text x="483.21" y="206.3" font-family="Liberation Sans" font-weight="bold" stroke="#111" stroke-width="0.2" font-size="10.5" text-anchor="middle" fill="#111">4</text><text x="513.14" y="206.3" font-family="Liberation Sans" font-weight="bold" stroke="#111" stroke-width="0.2" font-size="10.5" text-anchor="middle" fill="#111">5</text><text x="543.07" y="206.3" font-family="Liberation Sans" font-weight="bold" stroke="#111" stroke-width="0.2" font-size="10.5" text-anchor="middle" fill="#111">6</text><text x="573.00" y="206.3" font-family="Liberation Sans" font-weight="bold" stroke="#111" stroke-width="0.2" font-size="10.5" text-anchor="middle" fill="#111">7</text><text x="360" y="188.91" font-family="Liberation Sans" font-weight="bold" stroke="#111" stroke-width="0.2" font-size="10.5" text-anchor="end" fill="#111">0.2</text><text x="360" y="151.36" font-family="Liberation Sans" font-weight="bold" stroke="#111" stroke-width="0.2" font-size="10.5" text-anchor="end" fill="#111">0.4</text><text x="360" y="113.80" font-family="Liberation Sans" font-weight="bold" stroke="#111" stroke-width="0.2" font-size="10.5" text-anchor="end" fill="#111">0.6</text><text x="360" y="76.24" font-family="Liberation Sans" font-weight="bold" stroke="#111" stroke-width="0.2" font-size="10.5" text-anchor="end" fill="#111">0.8</text><text x="360" y="38.69" font-family="Liberation Sans" font-weight="bold" stroke="#111" stroke-width="0.2" font-size="10.5" text-anchor="end" fill="#111">1.0</text><text x="577" y="198.30" font-family="Liberation Sans" font-weight="bold" stroke="#111" stroke-width="0.2" font-size="10.5" fill="#111">0.0</text><text x="577" y="164.50" font-family="Liberation Sans" font-weight="bold" stroke="#111" stroke-width="0.2" font-size="10.5" fill="#111">0.5</text><text x="577" y="130.70" font-family="Liberation Sans" font-weight="bold" stroke="#111" stroke-width="0.2" font-size="10.5" fill="#111">1.0</text><text x="577" y="96.90" font-family="Liberation Sans" font-weight="bold" stroke="#111" stroke-width="0.2" font-size="10.5" fill="#111">1.5</text><text x="577" y="63.10" font-family="Liberation Sans" font-weight="bold" stroke="#111" stroke-width="0.2" font-size="10.5" fill="#111">2.0</text><text x="577" y="29.30" font-family="Liberation Sans" font-weight="bold" stroke="#111" stroke-width="0.2" font-size="10.5" fill="#111">2.5</text><text x="467.5" y="216.8" font-family="Liberation Sans" font-weight="bold" stroke="#111" stroke-width="0.2" font-size="10.3" text-anchor="middle" fill="#111">Current Density/A cm<tspan dy="-4" font-size="7">-2</tspan></text><text transform="translate(341.5,109.5) rotate(-90)" font-family="Liberation Sans" font-weight="bold" stroke="#111" stroke-width="0.2" font-size="10.3" text-anchor="middle" fill="#111">Voltage/V</text><text transform="translate(594.3,113.3) rotate(90)" font-family="Liberation Sans" font-weight="bold" stroke="#111" stroke-width="0.2" font-size="10.8" text-anchor="middle" fill="#111">Power Density/W cm<tspan dy="-4" font-size="7">-2</tspan></text><line x1="384" y1="31.70" x2="403" y2="31.70" stroke="#dc4848" stroke-width="0.7"/><g transform="translate(393,31.70) scale(1.25)"><path d="M0.00,-2.50 L0.71,-0.67 L2.66,-0.57 L1.14,0.67 L1.65,2.57 L0.00,1.50 L-1.65,2.57 L-1.14,0.67 L-2.66,-0.57 L-0.71,-0.67Z" fill="#fff" fill-opacity="0.6" stroke="#dc4848" stroke-width="0.8"/></g><text x="405" y="35.30" font-family="Liberation Sans" font-weight="bold" stroke="#111" stroke-width="0.2" font-size="10.2" fill="#111">0 bar</text><line x1="384" y1="44.35" x2="403" y2="44.35" stroke="#8cb6d6" stroke-width="0.7"/><g transform="translate(393,44.35) scale(1.25)"><circle cx="0.00" cy="0.00" r="2.05" fill="#fff" stroke="#8cb6d6" stroke-width="0.9"/></g><text x="405" y="47.95" font-family="Liberation Sans" font-weight="bold" stroke="#111" stroke-width="0.2" font-size="10.2" fill="#111">0.5 bar</text><line x1="384" y1="57.00" x2="403" y2="57.00" stroke="#333" stroke-width="0.7"/><g transform="translate(393,57.00) scale(1.25)"><path d="M0.00,-2.50 l2.5,2.5 -2.5,2.5 -2.5,-2.5z" fill="#fff" stroke="#2a2a2a" stroke-width="0.95"/></g><text x="405" y="60.60" font-family="Liberation Sans" font-weight="bold" stroke="#111" stroke-width="0.2" font-size="10.2" fill="#111">1.0 bar</text><line x1="384" y1="69.65" x2="403" y2="69.65" stroke="#e0393b" stroke-width="0.7"/><g transform="translate(393,69.65) scale(1.25)"><path d="M-3.00,-2.30 h6.0 l-3.0,5.1z" fill="#e0393b"/></g><text x="405" y="73.25" font-family="Liberation Sans" font-weight="bold" stroke="#111" stroke-width="0.2" font-size="10.2" fill="#111">1.5 bar</text><defs>
<radialGradient id="gsB" cx="0.45" cy="0.42" r="0.58"><stop offset="0" stop-color="#4a5064"/><stop offset="0.8" stop-color="#363c4e"/><stop offset="1" stop-color="#2e3242"/></radialGradient>
<radialGradient id="gsY" cx="0.45" cy="0.42" r="0.58"><stop offset="0" stop-color="#545a3c"/><stop offset="0.8" stop-color="#444a2e"/><stop offset="1" stop-color="#3a3e27"/></radialGradient>
<radialGradient id="gsD" cx="0.45" cy="0.42" r="0.58"><stop offset="0" stop-color="#48424e"/><stop offset="0.8" stop-color="#33303a"/><stop offset="1" stop-color="#2a2630"/></radialGradient>
<g id="spB"><path d="M8.86,0.89 L7.49,2.52 L7.59,4.64 L5.65,5.52 L4.83,7.48 L2.70,7.42 L1.10,8.83 L-0.79,7.86 L-2.84,8.44 L-4.12,6.74 L-6.22,6.37 L-6.64,4.28 L-8.36,3.04 L-7.84,0.98 L-8.86,-0.89 L-7.49,-2.52 L-7.59,-4.64 L-5.65,-5.52 L-4.83,-7.48 L-2.70,-7.42 L-1.10,-8.83 L0.79,-7.86 L2.84,-8.44 L4.12,-6.74 L6.22,-6.37 L6.64,-4.28 L8.36,-3.04 L7.84,-0.98Z" fill="#353a4a"/><circle r="8.2" fill="url(#gsB)"/><circle r="1.8" fill="#b88a7c"/></g>
<g id="spY"><path d="M8.86,0.89 L7.49,2.52 L7.59,4.64 L5.65,5.52 L4.83,7.48 L2.70,7.42 L1.10,8.83 L-0.79,7.86 L-2.84,8.44 L-4.12,6.74 L-6.22,6.37 L-6.64,4.28 L-8.36,3.04 L-7.84,0.98 L-8.86,-0.89 L-7.49,-2.52 L-7.59,-4.64 L-5.65,-5.52 L-4.83,-7.48 L-2.70,-7.42 L-1.10,-8.83 L0.79,-7.86 L2.84,-8.44 L4.12,-6.74 L6.22,-6.37 L6.64,-4.28 L8.36,-3.04 L7.84,-0.98Z" fill="#6a5a38"/><circle r="8.2" fill="url(#gsY)"/><circle r="1.9" fill="#d8a060"/></g>
<g id="spD"><path d="M8.86,0.89 L7.49,2.52 L7.59,4.64 L5.65,5.52 L4.83,7.48 L2.70,7.42 L1.10,8.83 L-0.79,7.86 L-2.84,8.44 L-4.12,6.74 L-6.22,6.37 L-6.64,4.28 L-8.36,3.04 L-7.84,0.98 L-8.86,-0.89 L-7.49,-2.52 L-7.59,-4.64 L-5.65,-5.52 L-4.83,-7.48 L-2.70,-7.42 L-1.10,-8.83 L0.79,-7.86 L2.84,-8.44 L4.12,-6.74 L6.22,-6.37 L6.64,-4.28 L8.36,-3.04 L7.84,-0.98Z" fill="#2c2832"/><circle r="8.2" fill="url(#gsD)"/><circle r="1.9" fill="#e08a6a"/></g>
<linearGradient id="blueOv" gradientUnits="userSpaceOnUse" x1="136" x2="200" y1="0" y2="0"><stop offset="0" stop-color="#b8c6e8" stop-opacity="0.9"/><stop offset="0.25" stop-color="#bccaea" stop-opacity="0.55"/><stop offset="0.6" stop-color="#c8d2ee" stop-opacity="0.15"/><stop offset="0.85" stop-color="#d0d8f0" stop-opacity="0.0"/></linearGradient>
<linearGradient id="yelOv" gradientUnits="userSpaceOnUse" x1="180" x2="258" y1="0" y2="0"><stop offset="0" stop-color="#c8d6a8" stop-opacity="0.0"/><stop offset="0.2" stop-color="#c8d6a8" stop-opacity="0.3"/><stop offset="0.5" stop-color="#dfe2b8" stop-opacity="0.15"/><stop offset="1" stop-color="#f4eec8" stop-opacity="0.12"/></linearGradient>
<linearGradient id="yelBg" x1="0" x2="1" y1="0" y2="0"><stop offset="0" stop-color="#dce4c6"/><stop offset="0.35" stop-color="#f0eed8"/><stop offset="1" stop-color="#f6f2de"/></linearGradient>
<linearGradient id="gdlSide" x1="0" x2="1" y1="0" y2="0"><stop offset="0" stop-color="#adadad"/><stop offset="1" stop-color="#a2a2a2"/></linearGradient>
<linearGradient id="gdlFront" x1="0" x2="1" y1="0" y2="0"><stop offset="0" stop-color="#dcdad4"/><stop offset="1" stop-color="#d4d4d4"/></linearGradient>
<linearGradient id="arrB" x1="0" x2="1" y1="0" y2="0"><stop offset="0" stop-color="#9fb2df"/><stop offset="1" stop-color="#d3dcf1"/></linearGradient>
<linearGradient id="arrG" x1="0" x2="1" y1="0" y2="0"><stop offset="0" stop-color="#f3f5e6"/><stop offset="1" stop-color="#ede8c6"/></linearGradient>
<radialGradient id="paleG" cx="0.5" cy="0.5" r="0.5"><stop offset="0" stop-color="#c4cab2" stop-opacity="0.9"/><stop offset="1" stop-color="#c4cab2" stop-opacity="0.7"/></radialGradient>
</defs><path d="M255.3,64.0 L283.0,42.3 L287.7,42.3 L265.0,64.0Z" fill="#e6e6e6"/><path d="M265.0,64.0 L287.7,42.3 L287.7,182.3 L265.0,205.0Z" fill="url(#gdlSide)"/><path d="M128.2,68.0 L150.89999999999998,45.3 L150.89999999999998,181.3 L128.2,204.0Z" fill="#c8906c"/><path d="M117.6,68.0 L140.29999999999998,45.3 L150.89999999999998,45.3 L128.2,68.0Z" fill="#f4ae78"/><rect x="117.6" y="68.0" width="10.599999999999994" height="136.0" fill="#f6ae7a"/><path d="M190,52 Q191,41 203,41 L240,41 Q258,42 258,62 L258,186 Q250,204 216,206 Q184,206 176,198 Z" fill="url(#yelBg)"/><path d="M136,166 L136,76 Q139,50 154,47 L196,46 Q199,46 199,52 L182,201 L134,201 Q129,200 129,196 L129,192 Q135,185 136,166 Z" fill="#c0cce8"/><g transform="translate(212.8,50.6)"><path d="M8.86,0.89 L7.49,2.52 L7.59,4.64 L5.65,5.52 L4.83,7.48 L2.70,7.42 L1.10,8.83 L-0.79,7.86 L-2.84,8.44 L-4.12,6.74 L-6.22,6.37 L-6.64,4.28 L-8.36,3.04 L-7.84,0.98 L-8.86,-0.89 L-7.49,-2.52 L-7.59,-4.64 L-5.65,-5.52 L-4.83,-7.48 L-2.70,-7.42 L-1.10,-8.83 L0.79,-7.86 L2.84,-8.44 L4.12,-6.74 L6.22,-6.37 L6.64,-4.28 L8.36,-3.04 L7.84,-0.98Z" fill="#6a5a38"/><circle r="8.2" fill="url(#gsY)"/><circle r="1.9" fill="#d8a060"/></g><g transform="translate(222.3,61.0)"><path d="M8.86,0.89 L7.49,2.52 L7.59,4.64 L5.65,5.52 L4.83,7.48 L2.70,7.42 L1.10,8.83 L-0.79,7.86 L-2.84,8.44 L-4.12,6.74 L-6.22,6.37 L-6.64,4.28 L-8.36,3.04 L-7.84,0.98 L-8.86,-0.89 L-7.49,-2.52 L-7.59,-4.64 L-5.65,-5.52 L-4.83,-7.48 L-2.70,-7.42 L-1.10,-8.83 L0.79,-7.86 L2.84,-8.44 L4.12,-6.74 L6.22,-6.37 L6.64,-4.28 L8.36,-3.04 L7.84,-0.98Z" fill="#6a5a38"/><circle r="8.2" fill="url(#gsY)"/><circle r="1.9" fill="#d8a060"/></g><g transform="translate(240.0,63.6)"><path d="M8.86,0.89 L7.49,2.52 L7.59,4.64 L5.65,5.52 L4.83,7.48 L2.70,7.42 L1.10,8.83 L-0.79,7.86 L-2.84,8.44 L-4.12,6.74 L-6.22,6.37 L-6.64,4.28 L-8.36,3.04 L-7.84,0.98 L-8.86,-0.89 L-7.49,-2.52 L-7.59,-4.64 L-5.65,-5.52 L-4.83,-7.48 L-2.70,-7.42 L-1.10,-8.83 L0.79,-7.86 L2.84,-8.44 L4.12,-6.74 L6.22,-6.37 L6.64,-4.28 L8.36,-3.04 L7.84,-0.98Z" fill="#6a5a38"/><circle r="8.2" fill="url(#gsY)"/><circle r="1.9" fill="#d8a060"/></g><g transform="translate(252.3,69.7)"><path d="M8.86,0.89 L7.49,2.52 L7.59,4.64 L5.65,5.52 L4.83,7.48 L2.70,7.42 L1.10,8.83 L-0.79,7.86 L-2.84,8.44 L-4.12,6.74 L-6.22,6.37 L-6.64,4.28 L-8.36,3.04 L-7.84,0.98 L-8.86,-0.89 L-7.49,-2.52 L-7.59,-4.64 L-5.65,-5.52 L-4.83,-7.48 L-2.70,-7.42 L-1.10,-8.83 L0.79,-7.86 L2.84,-8.44 L4.12,-6.74 L6.22,-6.37 L6.64,-4.28 L8.36,-3.04 L7.84,-0.98Z" fill="#6a5a38"/><circle r="8.2" fill="url(#gsY)"/><circle r="1.9" fill="#d8a060"/></g><g transform="translate(218.8,75.8)"><path d="M8.86,0.89 L7.49,2.52 L7.59,4.64 L5.65,5.52 L4.83,7.48 L2.70,7.42 L1.10,8.83 L-0.79,7.86 L-2.84,8.44 L-4.12,6.74 L-6.22,6.37 L-6.64,4.28 L-8.36,3.04 L-7.84,0.98 L-8.86,-0.89 L-7.49,-2.52 L-7.59,-4.64 L-5.65,-5.52 L-4.83,-7.48 L-2.70,-7.42 L-1.10,-8.83 L0.79,-7.86 L2.84,-8.44 L4.12,-6.74 L6.22,-6.37 L6.64,-4.28 L8.36,-3.04 L7.84,-0.98Z" fill="#6a5a38"/><circle r="8.2" fill="url(#gsY)"/><circle r="1.9" fill="#d8a060"/></g><g transform="translate(236.5,79.0)"><path d="M8.86,0.89 L7.49,2.52 L7.59,4.64 L5.65,5.52 L4.83,7.48 L2.70,7.42 L1.10,8.83 L-0.79,7.86 L-2.84,8.44 L-4.12,6.74 L-6.22,6.37 L-6.64,4.28 L-8.36,3.04 L-7.84,0.98 L-8.86,-0.89 L-7.49,-2.52 L-7.59,-4.64 L-5.65,-5.52 L-4.83,-7.48 L-2.70,-7.42 L-1.10,-8.83 L0.79,-7.86 L2.84,-8.44 L4.12,-6.74 L6.22,-6.37 L6.64,-4.28 L8.36,-3.04 L7.84,-0.98Z" fill="#6a5a38"/><circle r="8.2" fill="url(#gsY)"/><circle r="1.9" fill="#d8a060"/></g><g transform="translate(247.0,88.0)"><path d="M8.86,0.89 L7.49,2.52 L7.59,4.64 L5.65,5.52 L4.83,7.48 L2.70,7.42 L1.10,8.83 L-0.79,7.86 L-2.84,8.44 L-4.12,6.74 L-6.22,6.37 L-6.64,4.28 L-8.36,3.04 L-7.84,0.98 L-8.86,-0.89 L-7.49,-2.52 L-7.59,-4.64 L-5.65,-5.52 L-4.83,-7.48 L-2.70,-7.42 L-1.10,-8.83 L0.79,-7.86 L2.84,-8.44 L4.12,-6.74 L6.22,-6.37 L6.64,-4.28 L8.36,-3.04 L7.84,-0.98Z" fill="#6a5a38"/><circle r="8.2" fill="url(#gsY)"/><circle r="1.9" fill="#d8a060"/></g><g transform="translate(210.5,89.0)"><path d="M8.86,0.89 L7.49,2.52 L7.59,4.64 L5.65,5.52 L4.83,7.48 L2.70,7.42 L1.10,8.83 L-0.79,7.86 L-2.84,8.44 L-4.12,6.74 L-6.22,6.37 L-6.64,4.28 L-8.36,3.04 L-7.84,0.98 L-8.86,-0.89 L-7.49,-2.52 L-7.59,-4.64 L-5.65,-5.52 L-4.83,-7.48 L-2.70,-7.42 L-1.10,-8.83 L0.79,-7.86 L2.84,-8.44 L4.12,-6.74 L6.22,-6.37 L6.64,-4.28 L8.36,-3.04 L7.84,-0.98Z" fill="#6a5a38"/><circle r="8.2" fill="url(#gsY)"/><circle r="1.9" fill="#d8a060"/></g><g transform="translate(230.1,94.5)"><path d="M8.86,0.89 L7.49,2.52 L7.59,4.64 L5.65,5.52 L4.83,7.48 L2.70,7.42 L1.10,8.83 L-0.79,7.86 L-2.84,8.44 L-4.12,6.74 L-6.22,6.37 L-6.64,4.28 L-8.36,3.04 L-7.84,0.98 L-8.86,-0.89 L-7.49,-2.52 L-7.59,-4.64 L-5.65,-5.52 L-4.83,-7.48 L-2.70,-7.42 L-1.10,-8.83 L0.79,-7.86 L2.84,-8.44 L4.12,-6.74 L6.22,-6.37 L6.64,-4.28 L8.36,-3.04 L7.84,-0.98Z" fill="#6a5a38"/><circle r="8.2" fill="url(#gsY)"/><circle r="1.9" fill="#d8a060"/></g><g transform="translate(202.3,105.0)"><path d="M8.86,0.89 L7.49,2.52 L7.59,4.64 L5.65,5.52 L4.83,7.48 L2.70,7.42 L1.10,8.83 L-0.79,7.86 L-2.84,8.44 L-4.12,6.74 L-6.22,6.37 L-6.64,4.28 L-8.36,3.04 L-7.84,0.98 L-8.86,-0.89 L-7.49,-2.52 L-7.59,-4.64 L-5.65,-5.52 L-4.83,-7.48 L-2.70,-7.42 L-1.10,-8.83 L0.79,-7.86 L2.84,-8.44 L4.12,-6.74 L6.22,-6.37 L6.64,-4.28 L8.36,-3.04 L7.84,-0.98Z" fill="#6a5a38"/><circle r="8.2" fill="url(#gsY)"/><circle r="1.9" fill="#d8a060"/></g><g transform="translate(220.6,105.8)"><path d="M8.86,0.89 L7.49,2.52 L7.59,4.64 L5.65,5.52 L4.83,7.48 L2.70,7.42 L1.10,8.83 L-0.79,7.86 L-2.84,8.44 L-4.12,6.74 L-6.22,6.37 L-6.64,4.28 L-8.36,3.04 L-7.84,0.98 L-8.86,-0.89 L-7.49,-2.52 L-7.59,-4.64 L-5.65,-5.52 L-4.83,-7.48 L-2.70,-7.42 L-1.10,-8.83 L0.79,-7.86 L2.84,-8.44 L4.12,-6.74 L6.22,-6.37 L6.64,-4.28 L8.36,-3.04 L7.84,-0.98Z" fill="#6a5a38"/><circle r="8.2" fill="url(#gsY)"/><circle r="1.9" fill="#d8a060"/></g><g transform="translate(238.0,111.0)"><path d="M8.86,0.89 L7.49,2.52 L7.59,4.64 L5.65,5.52 L4.83,7.48 L2.70,7.42 L1.10,8.83 L-0.79,7.86 L-2.84,8.44 L-4.12,6.74 L-6.22,6.37 L-6.64,4.28 L-8.36,3.04 L-7.84,0.98 L-8.86,-0.89 L-7.49,-2.52 L-7.59,-4.64 L-5.65,-5.52 L-4.83,-7.48 L-2.70,-7.42 L-1.10,-8.83 L0.79,-7.86 L2.84,-8.44 L4.12,-6.74 L6.22,-6.37 L6.64,-4.28 L8.36,-3.04 L7.84,-0.98Z" fill="#6a5a38"/><circle r="8.2" fill="url(#gsY)"/><circle r="1.9" fill="#d8a060"/></g><g transform="translate(211.0,118.0)"><path d="M8.86,0.89 L7.49,2.52 L7.59,4.64 L5.65,5.52 L4.83,7.48 L2.70,7.42 L1.10,8.83 L-0.79,7.86 L-2.84,8.44 L-4.12,6.74 L-6.22,6.37 L-6.64,4.28 L-8.36,3.04 L-7.84,0.98 L-8.86,-0.89 L-7.49,-2.52 L-7.59,-4.64 L-5.65,-5.52 L-4.83,-7.48 L-2.70,-7.42 L-1.10,-8.83 L0.79,-7.86 L2.84,-8.44 L4.12,-6.74 L6.22,-6.37 L6.64,-4.28 L8.36,-3.04 L7.84,-0.98Z" fill="#6a5a38"/><circle r="8.2" fill="url(#gsY)"/><circle r="1.9" fill="#d8a060"/></g><g transform="translate(227.5,124.0)"><path d="M8.86,0.89 L7.49,2.52 L7.59,4.64 L5.65,5.52 L4.83,7.48 L2.70,7.42 L1.10,8.83 L-0.79,7.86 L-2.84,8.44 L-4.12,6.74 L-6.22,6.37 L-6.64,4.28 L-8.36,3.04 L-7.84,0.98 L-8.86,-0.89 L-7.49,-2.52 L-7.59,-4.64 L-5.65,-5.52 L-4.83,-7.48 L-2.70,-7.42 L-1.10,-8.83 L0.79,-7.86 L2.84,-8.44 L4.12,-6.74 L6.22,-6.37 L6.64,-4.28 L8.36,-3.04 L7.84,-0.98Z" fill="#6a5a38"/><circle r="8.2" fill="url(#gsY)"/><circle r="1.9" fill="#d8a060"/></g><g transform="translate(193.7,124.9)"><path d="M8.86,0.89 L7.49,2.52 L7.59,4.64 L5.65,5.52 L4.83,7.48 L2.70,7.42 L1.10,8.83 L-0.79,7.86 L-2.84,8.44 L-4.12,6.74 L-6.22,6.37 L-6.64,4.28 L-8.36,3.04 L-7.84,0.98 L-8.86,-0.89 L-7.49,-2.52 L-7.59,-4.64 L-5.65,-5.52 L-4.83,-7.48 L-2.70,-7.42 L-1.10,-8.83 L0.79,-7.86 L2.84,-8.44 L4.12,-6.74 L6.22,-6.37 L6.64,-4.28 L8.36,-3.04 L7.84,-0.98Z" fill="#6a5a38"/><circle r="8.2" fill="url(#gsY)"/><circle r="1.9" fill="#d8a060"/></g><g transform="translate(204.0,131.0)"><path d="M8.86,0.89 L7.49,2.52 L7.59,4.64 L5.65,5.52 L4.83,7.48 L2.70,7.42 L1.10,8.83 L-0.79,7.86 L-2.84,8.44 L-4.12,6.74 L-6.22,6.37 L-6.64,4.28 L-8.36,3.04 L-7.84,0.98 L-8.86,-0.89 L-7.49,-2.52 L-7.59,-4.64 L-5.65,-5.52 L-4.83,-7.48 L-2.70,-7.42 L-1.10,-8.83 L0.79,-7.86 L2.84,-8.44 L4.12,-6.74 L6.22,-6.37 L6.64,-4.28 L8.36,-3.04 L7.84,-0.98Z" fill="#6a5a38"/><circle r="8.2" fill="url(#gsY)"/><circle r="1.9" fill="#d8a060"/></g><g transform="translate(212.0,135.5)"><path d="M8.86,0.89 L7.49,2.52 L7.59,4.64 L5.65,5.52 L4.83,7.48 L2.70,7.42 L1.10,8.83 L-0.79,7.86 L-2.84,8.44 L-4.12,6.74 L-6.22,6.37 L-6.64,4.28 L-8.36,3.04 L-7.84,0.98 L-8.86,-0.89 L-7.49,-2.52 L-7.59,-4.64 L-5.65,-5.52 L-4.83,-7.48 L-2.70,-7.42 L-1.10,-8.83 L0.79,-7.86 L2.84,-8.44 L4.12,-6.74 L6.22,-6.37 L6.64,-4.28 L8.36,-3.04 L7.84,-0.98Z" fill="#6a5a38"/><circle r="8.2" fill="url(#gsY)"/><circle r="1.9" fill="#d8a060"/></g><g transform="translate(228.0,140.0)"><path d="M8.86,0.89 L7.49,2.52 L7.59,4.64 L5.65,5.52 L4.83,7.48 L2.70,7.42 L1.10,8.83 L-0.79,7.86 L-2.84,8.44 L-4.12,6.74 L-6.22,6.37 L-6.64,4.28 L-8.36,3.04 L-7.84,0.98 L-8.86,-0.89 L-7.49,-2.52 L-7.59,-4.64 L-5.65,-5.52 L-4.83,-7.48 L-2.70,-7.42 L-1.10,-8.83 L0.79,-7.86 L2.84,-8.44 L4.12,-6.74 L6.22,-6.37 L6.64,-4.28 L8.36,-3.04 L7.84,-0.98Z" fill="#6a5a38"/><circle r="8.2" fill="url(#gsY)"/><circle r="1.9" fill="#d8a060"/></g><g transform="translate(246.3,127.5)"><path d="M8.86,0.89 L7.49,2.52 L7.59,4.64 L5.65,5.52 L4.83,7.48 L2.70,7.42 L1.10,8.83 L-0.79,7.86 L-2.84,8.44 L-4.12,6.74 L-6.22,6.37 L-6.64,4.28 L-8.36,3.04 L-7.84,0.98 L-8.86,-0.89 L-7.49,-2.52 L-7.59,-4.64 L-5.65,-5.52 L-4.83,-7.48 L-2.70,-7.42 L-1.10,-8.83 L0.79,-7.86 L2.84,-8.44 L4.12,-6.74 L6.22,-6.37 L6.64,-4.28 L8.36,-3.04 L7.84,-0.98Z" fill="#6a5a38"/><circle r="8.2" fill="url(#gsY)"/><circle r="1.9" fill="#d8a060"/></g><g transform="translate(251.0,139.0)"><path d="M8.86,0.89 L7.49,2.52 L7.59,4.64 L5.65,5.52 L4.83,7.48 L2.70,7.42 L1.10,8.83 L-0.79,7.86 L-2.84,8.44 L-4.12,6.74 L-6.22,6.37 L-6.64,4.28 L-8.36,3.04 L-7.84,0.98 L-8.86,-0.89 L-7.49,-2.52 L-7.59,-4.64 L-5.65,-5.52 L-4.83,-7.48 L-2.70,-7.42 L-1.10,-8.83 L0.79,-7.86 L2.84,-8.44 L4.12,-6.74 L6.22,-6.37 L6.64,-4.28 L8.36,-3.04 L7.84,-0.98Z" fill="#6a5a38"/><circle r="8.2" fill="url(#gsY)"/><circle r="1.9" fill="#d8a060"/></g><g transform="translate(188.5,145.4)"><path d="M8.86,0.89 L7.49,2.52 L7.59,4.64 L5.65,5.52 L4.83,7.48 L2.70,7.42 L1.10,8.83 L-0.79,7.86 L-2.84,8.44 L-4.12,6.74 L-6.22,6.37 L-6.64,4.28 L-8.36,3.04 L-7.84,0.98 L-8.86,-0.89 L-7.49,-2.52 L-7.59,-4.64 L-5.65,-5.52 L-4.83,-7.48 L-2.70,-7.42 L-1.10,-8.83 L0.79,-7.86 L2.84,-8.44 L4.12,-6.74 L6.22,-6.37 L6.64,-4.28 L8.36,-3.04 L7.84,-0.98Z" fill="#6a5a38"/><circle r="8.2" fill="url(#gsY)"/><circle r="1.9" fill="#d8a060"/></g><g transform="translate(200.6,155.8)"><path d="M8.86,0.89 L7.49,2.52 L7.59,4.64 L5.65,5.52 L4.83,7.48 L2.70,7.42 L1.10,8.83 L-0.79,7.86 L-2.84,8.44 L-4.12,6.74 L-6.22,6.37 L-6.64,4.28 L-8.36,3.04 L-7.84,0.98 L-8.86,-0.89 L-7.49,-2.52 L-7.59,-4.64 L-5.65,-5.52 L-4.83,-7.48 L-2.70,-7.42 L-1.10,-8.83 L0.79,-7.86 L2.84,-8.44 L4.12,-6.74 L6.22,-6.37 L6.64,-4.28 L8.36,-3.04 L7.84,-0.98Z" fill="#6a5a38"/><circle r="8.2" fill="url(#gsY)"/><circle r="1.9" fill="#d8a060"/></g><g transform="translate(217.1,155.0)"><path d="M8.86,0.89 L7.49,2.52 L7.59,4.64 L5.65,5.52 L4.83,7.48 L2.70,7.42 L1.10,8.83 L-0.79,7.86 L-2.84,8.44 L-4.12,6.74 L-6.22,6.37 L-6.64,4.28 L-8.36,3.04 L-7.84,0.98 L-8.86,-0.89 L-7.49,-2.52 L-7.59,-4.64 L-5.65,-5.52 L-4.83,-7.48 L-2.70,-7.42 L-1.10,-8.83 L0.79,-7.86 L2.84,-8.44 L4.12,-6.74 L6.22,-6.37 L6.64,-4.28 L8.36,-3.04 L7.84,-0.98Z" fill="#6a5a38"/><circle r="8.2" fill="url(#gsY)"/><circle r="1.9" fill="#d8a060"/></g><g transform="translate(239.0,152.3)"><path d="M8.86,0.89 L7.49,2.52 L7.59,4.64 L5.65,5.52 L4.83,7.48 L2.70,7.42 L1.10,8.83 L-0.79,7.86 L-2.84,8.44 L-4.12,6.74 L-6.22,6.37 L-6.64,4.28 L-8.36,3.04 L-7.84,0.98 L-8.86,-0.89 L-7.49,-2.52 L-7.59,-4.64 L-5.65,-5.52 L-4.83,-7.48 L-2.70,-7.42 L-1.10,-8.83 L0.79,-7.86 L2.84,-8.44 L4.12,-6.74 L6.22,-6.37 L6.64,-4.28 L8.36,-3.04 L7.84,-0.98Z" fill="#6a5a38"/><circle r="8.2" fill="url(#gsY)"/><circle r="1.9" fill="#d8a060"/></g><g transform="translate(233.0,166.0)"><path d="M8.86,0.89 L7.49,2.52 L7.59,4.64 L5.65,5.52 L4.83,7.48 L2.70,7.42 L1.10,8.83 L-0.79,7.86 L-2.84,8.44 L-4.12,6.74 L-6.22,6.37 L-6.64,4.28 L-8.36,3.04 L-7.84,0.98 L-8.86,-0.89 L-7.49,-2.52 L-7.59,-4.64 L-5.65,-5.52 L-4.83,-7.48 L-2.70,-7.42 L-1.10,-8.83 L0.79,-7.86 L2.84,-8.44 L4.12,-6.74 L6.22,-6.37 L6.64,-4.28 L8.36,-3.04 L7.84,-0.98Z" fill="#6a5a38"/><circle r="8.2" fill="url(#gsY)"/><circle r="1.9" fill="#d8a060"/></g><g transform="translate(251.0,162.8)"><path d="M8.86,0.89 L7.49,2.52 L7.59,4.64 L5.65,5.52 L4.83,7.48 L2.70,7.42 L1.10,8.83 L-0.79,7.86 L-2.84,8.44 L-4.12,6.74 L-6.22,6.37 L-6.64,4.28 L-8.36,3.04 L-7.84,0.98 L-8.86,-0.89 L-7.49,-2.52 L-7.59,-4.64 L-5.65,-5.52 L-4.83,-7.48 L-2.70,-7.42 L-1.10,-8.83 L0.79,-7.86 L2.84,-8.44 L4.12,-6.74 L6.22,-6.37 L6.64,-4.28 L8.36,-3.04 L7.84,-0.98Z" fill="#6a5a38"/><circle r="8.2" fill="url(#gsY)"/><circle r="1.9" fill="#d8a060"/></g><g transform="translate(214.5,172.0)"><path d="M8.86,0.89 L7.49,2.52 L7.59,4.64 L5.65,5.52 L4.83,7.48 L2.70,7.42 L1.10,8.83 L-0.79,7.86 L-2.84,8.44 L-4.12,6.74 L-6.22,6.37 L-6.64,4.28 L-8.36,3.04 L-7.84,0.98 L-8.86,-0.89 L-7.49,-2.52 L-7.59,-4.64 L-5.65,-5.52 L-4.83,-7.48 L-2.70,-7.42 L-1.10,-8.83 L0.79,-7.86 L2.84,-8.44 L4.12,-6.74 L6.22,-6.37 L6.64,-4.28 L8.36,-3.04 L7.84,-0.98Z" fill="#6a5a38"/><circle r="8.2" fill="url(#gsY)"/><circle r="1.9" fill="#d8a060"/></g><g transform="translate(187.5,175.0)"><path d="M8.86,0.89 L7.49,2.52 L7.59,4.64 L5.65,5.52 L4.83,7.48 L2.70,7.42 L1.10,8.83 L-0.79,7.86 L-2.84,8.44 L-4.12,6.74 L-6.22,6.37 L-6.64,4.28 L-8.36,3.04 L-7.84,0.98 L-8.86,-0.89 L-7.49,-2.52 L-7.59,-4.64 L-5.65,-5.52 L-4.83,-7.48 L-2.70,-7.42 L-1.10,-8.83 L0.79,-7.86 L2.84,-8.44 L4.12,-6.74 L6.22,-6.37 L6.64,-4.28 L8.36,-3.04 L7.84,-0.98Z" fill="#6a5a38"/><circle r="8.2" fill="url(#gsY)"/><circle r="1.9" fill="#d8a060"/></g><g transform="translate(203.0,183.5)"><path d="M8.86,0.89 L7.49,2.52 L7.59,4.64 L5.65,5.52 L4.83,7.48 L2.70,7.42 L1.10,8.83 L-0.79,7.86 L-2.84,8.44 L-4.12,6.74 L-6.22,6.37 L-6.64,4.28 L-8.36,3.04 L-7.84,0.98 L-8.86,-0.89 L-7.49,-2.52 L-7.59,-4.64 L-5.65,-5.52 L-4.83,-7.48 L-2.70,-7.42 L-1.10,-8.83 L0.79,-7.86 L2.84,-8.44 L4.12,-6.74 L6.22,-6.37 L6.64,-4.28 L8.36,-3.04 L7.84,-0.98Z" fill="#6a5a38"/><circle r="8.2" fill="url(#gsY)"/><circle r="1.9" fill="#d8a060"/></g><g transform="translate(223.7,181.2)"><path d="M8.86,0.89 L7.49,2.52 L7.59,4.64 L5.65,5.52 L4.83,7.48 L2.70,7.42 L1.10,8.83 L-0.79,7.86 L-2.84,8.44 L-4.12,6.74 L-6.22,6.37 L-6.64,4.28 L-8.36,3.04 L-7.84,0.98 L-8.86,-0.89 L-7.49,-2.52 L-7.59,-4.64 L-5.65,-5.52 L-4.83,-7.48 L-2.70,-7.42 L-1.10,-8.83 L0.79,-7.86 L2.84,-8.44 L4.12,-6.74 L6.22,-6.37 L6.64,-4.28 L8.36,-3.04 L7.84,-0.98Z" fill="#6a5a38"/><circle r="8.2" fill="url(#gsY)"/><circle r="1.9" fill="#d8a060"/></g><g transform="translate(238.3,181.7)"><path d="M8.86,0.89 L7.49,2.52 L7.59,4.64 L5.65,5.52 L4.83,7.48 L2.70,7.42 L1.10,8.83 L-0.79,7.86 L-2.84,8.44 L-4.12,6.74 L-6.22,6.37 L-6.64,4.28 L-8.36,3.04 L-7.84,0.98 L-8.86,-0.89 L-7.49,-2.52 L-7.59,-4.64 L-5.65,-5.52 L-4.83,-7.48 L-2.70,-7.42 L-1.10,-8.83 L0.79,-7.86 L2.84,-8.44 L4.12,-6.74 L6.22,-6.37 L6.64,-4.28 L8.36,-3.04 L7.84,-0.98Z" fill="#6a5a38"/><circle r="8.2" fill="url(#gsY)"/><circle r="1.9" fill="#d8a060"/></g><g transform="translate(187.7,192.3)"><path d="M8.86,0.89 L7.49,2.52 L7.59,4.64 L5.65,5.52 L4.83,7.48 L2.70,7.42 L1.10,8.83 L-0.79,7.86 L-2.84,8.44 L-4.12,6.74 L-6.22,6.37 L-6.64,4.28 L-8.36,3.04 L-7.84,0.98 L-8.86,-0.89 L-7.49,-2.52 L-7.59,-4.64 L-5.65,-5.52 L-4.83,-7.48 L-2.70,-7.42 L-1.10,-8.83 L0.79,-7.86 L2.84,-8.44 L4.12,-6.74 L6.22,-6.37 L6.64,-4.28 L8.36,-3.04 L7.84,-0.98Z" fill="#6a5a38"/><circle r="8.2" fill="url(#gsY)"/><circle r="1.9" fill="#d8a060"/></g><g transform="translate(189.0,57.0)"><path d="M8.86,0.89 L7.49,2.52 L7.59,4.64 L5.65,5.52 L4.83,7.48 L2.70,7.42 L1.10,8.83 L-0.79,7.86 L-2.84,8.44 L-4.12,6.74 L-6.22,6.37 L-6.64,4.28 L-8.36,3.04 L-7.84,0.98 L-8.86,-0.89 L-7.49,-2.52 L-7.59,-4.64 L-5.65,-5.52 L-4.83,-7.48 L-2.70,-7.42 L-1.10,-8.83 L0.79,-7.86 L2.84,-8.44 L4.12,-6.74 L6.22,-6.37 L6.64,-4.28 L8.36,-3.04 L7.84,-0.98Z" fill="#2c2832"/><circle r="8.2" fill="url(#gsD)"/><circle r="1.9" fill="#e08a6a"/></g><g transform="translate(193.0,86.0)"><path d="M8.86,0.89 L7.49,2.52 L7.59,4.64 L5.65,5.52 L4.83,7.48 L2.70,7.42 L1.10,8.83 L-0.79,7.86 L-2.84,8.44 L-4.12,6.74 L-6.22,6.37 L-6.64,4.28 L-8.36,3.04 L-7.84,0.98 L-8.86,-0.89 L-7.49,-2.52 L-7.59,-4.64 L-5.65,-5.52 L-4.83,-7.48 L-2.70,-7.42 L-1.10,-8.83 L0.79,-7.86 L2.84,-8.44 L4.12,-6.74 L6.22,-6.37 L6.64,-4.28 L8.36,-3.04 L7.84,-0.98Z" fill="#2c2832"/><circle r="8.2" fill="url(#gsD)"/><circle r="1.9" fill="#e08a6a"/></g><g transform="translate(188.5,111.0)"><path d="M8.86,0.89 L7.49,2.52 L7.59,4.64 L5.65,5.52 L4.83,7.48 L2.70,7.42 L1.10,8.83 L-0.79,7.86 L-2.84,8.44 L-4.12,6.74 L-6.22,6.37 L-6.64,4.28 L-8.36,3.04 L-7.84,0.98 L-8.86,-0.89 L-7.49,-2.52 L-7.59,-4.64 L-5.65,-5.52 L-4.83,-7.48 L-2.70,-7.42 L-1.10,-8.83 L0.79,-7.86 L2.84,-8.44 L4.12,-6.74 L6.22,-6.37 L6.64,-4.28 L8.36,-3.04 L7.84,-0.98Z" fill="#2c2832"/><circle r="8.2" fill="url(#gsD)"/><circle r="1.9" fill="#e08a6a"/></g><g transform="translate(185.0,121.0)"><path d="M8.86,0.89 L7.49,2.52 L7.59,4.64 L5.65,5.52 L4.83,7.48 L2.70,7.42 L1.10,8.83 L-0.79,7.86 L-2.84,8.44 L-4.12,6.74 L-6.22,6.37 L-6.64,4.28 L-8.36,3.04 L-7.84,0.98 L-8.86,-0.89 L-7.49,-2.52 L-7.59,-4.64 L-5.65,-5.52 L-4.83,-7.48 L-2.70,-7.42 L-1.10,-8.83 L0.79,-7.86 L2.84,-8.44 L4.12,-6.74 L6.22,-6.37 L6.64,-4.28 L8.36,-3.04 L7.84,-0.98Z" fill="#2c2832"/><circle r="8.2" fill="url(#gsD)"/><circle r="1.9" fill="#e08a6a"/></g><g transform="translate(178.0,158.0)"><path d="M8.86,0.89 L7.49,2.52 L7.59,4.64 L5.65,5.52 L4.83,7.48 L2.70,7.42 L1.10,8.83 L-0.79,7.86 L-2.84,8.44 L-4.12,6.74 L-6.22,6.37 L-6.64,4.28 L-8.36,3.04 L-7.84,0.98 L-8.86,-0.89 L-7.49,-2.52 L-7.59,-4.64 L-5.65,-5.52 L-4.83,-7.48 L-2.70,-7.42 L-1.10,-8.83 L0.79,-7.86 L2.84,-8.44 L4.12,-6.74 L6.22,-6.37 L6.64,-4.28 L8.36,-3.04 L7.84,-0.98Z" fill="#2c2832"/><circle r="8.2" fill="url(#gsD)"/><circle r="1.9" fill="#e08a6a"/></g><g transform="translate(172.3,53.0)"><path d="M8.86,0.89 L7.49,2.52 L7.59,4.64 L5.65,5.52 L4.83,7.48 L2.70,7.42 L1.10,8.83 L-0.79,7.86 L-2.84,8.44 L-4.12,6.74 L-6.22,6.37 L-6.64,4.28 L-8.36,3.04 L-7.84,0.98 L-8.86,-0.89 L-7.49,-2.52 L-7.59,-4.64 L-5.65,-5.52 L-4.83,-7.48 L-2.70,-7.42 L-1.10,-8.83 L0.79,-7.86 L2.84,-8.44 L4.12,-6.74 L6.22,-6.37 L6.64,-4.28 L8.36,-3.04 L7.84,-0.98Z" fill="#353a4a"/><circle r="8.2" fill="url(#gsB)"/><circle r="1.8" fill="#b88a7c"/></g><g transform="translate(156.7,60.0)"><path d="M8.86,0.89 L7.49,2.52 L7.59,4.64 L5.65,5.52 L4.83,7.48 L2.70,7.42 L1.10,8.83 L-0.79,7.86 L-2.84,8.44 L-4.12,6.74 L-6.22,6.37 L-6.64,4.28 L-8.36,3.04 L-7.84,0.98 L-8.86,-0.89 L-7.49,-2.52 L-7.59,-4.64 L-5.65,-5.52 L-4.83,-7.48 L-2.70,-7.42 L-1.10,-8.83 L0.79,-7.86 L2.84,-8.44 L4.12,-6.74 L6.22,-6.37 L6.64,-4.28 L8.36,-3.04 L7.84,-0.98Z" fill="#353a4a"/><circle r="8.2" fill="url(#gsB)"/><circle r="1.8" fill="#b88a7c"/></g><g transform="translate(168.8,68.6)"><path d="M8.86,0.89 L7.49,2.52 L7.59,4.64 L5.65,5.52 L4.83,7.48 L2.70,7.42 L1.10,8.83 L-0.79,7.86 L-2.84,8.44 L-4.12,6.74 L-6.22,6.37 L-6.64,4.28 L-8.36,3.04 L-7.84,0.98 L-8.86,-0.89 L-7.49,-2.52 L-7.59,-4.64 L-5.65,-5.52 L-4.83,-7.48 L-2.70,-7.42 L-1.10,-8.83 L0.79,-7.86 L2.84,-8.44 L4.12,-6.74 L6.22,-6.37 L6.64,-4.28 L8.36,-3.04 L7.84,-0.98Z" fill="#353a4a"/><circle r="8.2" fill="url(#gsB)"/><circle r="1.8" fill="#b88a7c"/></g><g transform="translate(148.9,77.3)"><path d="M8.86,0.89 L7.49,2.52 L7.59,4.64 L5.65,5.52 L4.83,7.48 L2.70,7.42 L1.10,8.83 L-0.79,7.86 L-2.84,8.44 L-4.12,6.74 L-6.22,6.37 L-6.64,4.28 L-8.36,3.04 L-7.84,0.98 L-8.86,-0.89 L-7.49,-2.52 L-7.59,-4.64 L-5.65,-5.52 L-4.83,-7.48 L-2.70,-7.42 L-1.10,-8.83 L0.79,-7.86 L2.84,-8.44 L4.12,-6.74 L6.22,-6.37 L6.64,-4.28 L8.36,-3.04 L7.84,-0.98Z" fill="#353a4a"/><circle r="8.2" fill="url(#gsB)"/><circle r="1.8" fill="#b88a7c"/></g><g transform="translate(163.6,85.1)"><path d="M8.86,0.89 L7.49,2.52 L7.59,4.64 L5.65,5.52 L4.83,7.48 L2.70,7.42 L1.10,8.83 L-0.79,7.86 L-2.84,8.44 L-4.12,6.74 L-6.22,6.37 L-6.64,4.28 L-8.36,3.04 L-7.84,0.98 L-8.86,-0.89 L-7.49,-2.52 L-7.59,-4.64 L-5.65,-5.52 L-4.83,-7.48 L-2.70,-7.42 L-1.10,-8.83 L0.79,-7.86 L2.84,-8.44 L4.12,-6.74 L6.22,-6.37 L6.64,-4.28 L8.36,-3.04 L7.84,-0.98Z" fill="#353a4a"/><circle r="8.2" fill="url(#gsB)"/><circle r="1.8" fill="#b88a7c"/></g><g transform="translate(145.4,91.0)"><path d="M8.86,0.89 L7.49,2.52 L7.59,4.64 L5.65,5.52 L4.83,7.48 L2.70,7.42 L1.10,8.83 L-0.79,7.86 L-2.84,8.44 L-4.12,6.74 L-6.22,6.37 L-6.64,4.28 L-8.36,3.04 L-7.84,0.98 L-8.86,-0.89 L-7.49,-2.52 L-7.59,-4.64 L-5.65,-5.52 L-4.83,-7.48 L-2.70,-7.42 L-1.10,-8.83 L0.79,-7.86 L2.84,-8.44 L4.12,-6.74 L6.22,-6.37 L6.64,-4.28 L8.36,-3.04 L7.84,-0.98Z" fill="#353a4a"/><circle r="8.2" fill="url(#gsB)"/><circle r="1.8" fill="#b88a7c"/></g><g transform="translate(155.0,104.7)"><path d="M8.86,0.89 L7.49,2.52 L7.59,4.64 L5.65,5.52 L4.83,7.48 L2.70,7.42 L1.10,8.83 L-0.79,7.86 L-2.84,8.44 L-4.12,6.74 L-6.22,6.37 L-6.64,4.28 L-8.36,3.04 L-7.84,0.98 L-8.86,-0.89 L-7.49,-2.52 L-7.59,-4.64 L-5.65,-5.52 L-4.83,-7.48 L-2.70,-7.42 L-1.10,-8.83 L0.79,-7.86 L2.84,-8.44 L4.12,-6.74 L6.22,-6.37 L6.64,-4.28 L8.36,-3.04 L7.84,-0.98Z" fill="#353a4a"/><circle r="8.2" fill="url(#gsB)"/><circle r="1.8" fill="#b88a7c"/></g><g transform="translate(168.8,99.5)"><path d="M8.86,0.89 L7.49,2.52 L7.59,4.64 L5.65,5.52 L4.83,7.48 L2.70,7.42 L1.10,8.83 L-0.79,7.86 L-2.84,8.44 L-4.12,6.74 L-6.22,6.37 L-6.64,4.28 L-8.36,3.04 L-7.84,0.98 L-8.86,-0.89 L-7.49,-2.52 L-7.59,-4.64 L-5.65,-5.52 L-4.83,-7.48 L-2.70,-7.42 L-1.10,-8.83 L0.79,-7.86 L2.84,-8.44 L4.12,-6.74 L6.22,-6.37 L6.64,-4.28 L8.36,-3.04 L7.84,-0.98Z" fill="#353a4a"/><circle r="8.2" fill="url(#gsB)"/><circle r="1.8" fill="#b88a7c"/></g><g transform="translate(171.4,114.3)"><path d="M8.86,0.89 L7.49,2.52 L7.59,4.64 L5.65,5.52 L4.83,7.48 L2.70,7.42 L1.10,8.83 L-0.79,7.86 L-2.84,8.44 L-4.12,6.74 L-6.22,6.37 L-6.64,4.28 L-8.36,3.04 L-7.84,0.98 L-8.86,-0.89 L-7.49,-2.52 L-7.59,-4.64 L-5.65,-5.52 L-4.83,-7.48 L-2.70,-7.42 L-1.10,-8.83 L0.79,-7.86 L2.84,-8.44 L4.12,-6.74 L6.22,-6.37 L6.64,-4.28 L8.36,-3.04 L7.84,-0.98Z" fill="#353a4a"/><circle r="8.2" fill="url(#gsB)"/><circle r="1.8" fill="#b88a7c"/></g><g transform="translate(142.8,116.0)"><path d="M8.86,0.89 L7.49,2.52 L7.59,4.64 L5.65,5.52 L4.83,7.48 L2.70,7.42 L1.10,8.83 L-0.79,7.86 L-2.84,8.44 L-4.12,6.74 L-6.22,6.37 L-6.64,4.28 L-8.36,3.04 L-7.84,0.98 L-8.86,-0.89 L-7.49,-2.52 L-7.59,-4.64 L-5.65,-5.52 L-4.83,-7.48 L-2.70,-7.42 L-1.10,-8.83 L0.79,-7.86 L2.84,-8.44 L4.12,-6.74 L6.22,-6.37 L6.64,-4.28 L8.36,-3.04 L7.84,-0.98Z" fill="#353a4a"/><circle r="8.2" fill="url(#gsB)"/><circle r="1.8" fill="#b88a7c"/></g><g transform="translate(161.0,128.2)"><path d="M8.86,0.89 L7.49,2.52 L7.59,4.64 L5.65,5.52 L4.83,7.48 L2.70,7.42 L1.10,8.83 L-0.79,7.86 L-2.84,8.44 L-4.12,6.74 L-6.22,6.37 L-6.64,4.28 L-8.36,3.04 L-7.84,0.98 L-8.86,-0.89 L-7.49,-2.52 L-7.59,-4.64 L-5.65,-5.52 L-4.83,-7.48 L-2.70,-7.42 L-1.10,-8.83 L0.79,-7.86 L2.84,-8.44 L4.12,-6.74 L6.22,-6.37 L6.64,-4.28 L8.36,-3.04 L7.84,-0.98Z" fill="#353a4a"/><circle r="8.2" fill="url(#gsB)"/><circle r="1.8" fill="#b88a7c"/></g><g transform="translate(148.9,126.4)"><path d="M8.86,0.89 L7.49,2.52 L7.59,4.64 L5.65,5.52 L4.83,7.48 L2.70,7.42 L1.10,8.83 L-0.79,7.86 L-2.84,8.44 L-4.12,6.74 L-6.22,6.37 L-6.64,4.28 L-8.36,3.04 L-7.84,0.98 L-8.86,-0.89 L-7.49,-2.52 L-7.59,-4.64 L-5.65,-5.52 L-4.83,-7.48 L-2.70,-7.42 L-1.10,-8.83 L0.79,-7.86 L2.84,-8.44 L4.12,-6.74 L6.22,-6.37 L6.64,-4.28 L8.36,-3.04 L7.84,-0.98Z" fill="#353a4a"/><circle r="8.2" fill="url(#gsB)"/><circle r="1.8" fill="#b88a7c"/></g><g transform="translate(175.0,137.0)"><path d="M8.86,0.89 L7.49,2.52 L7.59,4.64 L5.65,5.52 L4.83,7.48 L2.70,7.42 L1.10,8.83 L-0.79,7.86 L-2.84,8.44 L-4.12,6.74 L-6.22,6.37 L-6.64,4.28 L-8.36,3.04 L-7.84,0.98 L-8.86,-0.89 L-7.49,-2.52 L-7.59,-4.64 L-5.65,-5.52 L-4.83,-7.48 L-2.70,-7.42 L-1.10,-8.83 L0.79,-7.86 L2.84,-8.44 L4.12,-6.74 L6.22,-6.37 L6.64,-4.28 L8.36,-3.04 L7.84,-0.98Z" fill="#353a4a"/><circle r="8.2" fill="url(#gsB)"/><circle r="1.8" fill="#b88a7c"/></g><g transform="translate(149.0,144.0)"><path d="M8.86,0.89 L7.49,2.52 L7.59,4.64 L5.65,5.52 L4.83,7.48 L2.70,7.42 L1.10,8.83 L-0.79,7.86 L-2.84,8.44 L-4.12,6.74 L-6.22,6.37 L-6.64,4.28 L-8.36,3.04 L-7.84,0.98 L-8.86,-0.89 L-7.49,-2.52 L-7.59,-4.64 L-5.65,-5.52 L-4.83,-7.48 L-2.70,-7.42 L-1.10,-8.83 L0.79,-7.86 L2.84,-8.44 L4.12,-6.74 L6.22,-6.37 L6.64,-4.28 L8.36,-3.04 L7.84,-0.98Z" fill="#353a4a"/><circle r="8.2" fill="url(#gsB)"/><circle r="1.8" fill="#b88a7c"/></g><g transform="translate(166.2,147.8)"><path d="M8.86,0.89 L7.49,2.52 L7.59,4.64 L5.65,5.52 L4.83,7.48 L2.70,7.42 L1.10,8.83 L-0.79,7.86 L-2.84,8.44 L-4.12,6.74 L-6.22,6.37 L-6.64,4.28 L-8.36,3.04 L-7.84,0.98 L-8.86,-0.89 L-7.49,-2.52 L-7.59,-4.64 L-5.65,-5.52 L-4.83,-7.48 L-2.70,-7.42 L-1.10,-8.83 L0.79,-7.86 L2.84,-8.44 L4.12,-6.74 L6.22,-6.37 L6.64,-4.28 L8.36,-3.04 L7.84,-0.98Z" fill="#353a4a"/><circle r="8.2" fill="url(#gsB)"/><circle r="1.8" fill="#b88a7c"/></g><g transform="translate(147.1,163.4)"><path d="M8.86,0.89 L7.49,2.52 L7.59,4.64 L5.65,5.52 L4.83,7.48 L2.70,7.42 L1.10,8.83 L-0.79,7.86 L-2.84,8.44 L-4.12,6.74 L-6.22,6.37 L-6.64,4.28 L-8.36,3.04 L-7.84,0.98 L-8.86,-0.89 L-7.49,-2.52 L-7.59,-4.64 L-5.65,-5.52 L-4.83,-7.48 L-2.70,-7.42 L-1.10,-8.83 L0.79,-7.86 L2.84,-8.44 L4.12,-6.74 L6.22,-6.37 L6.64,-4.28 L8.36,-3.04 L7.84,-0.98Z" fill="#353a4a"/><circle r="8.2" fill="url(#gsB)"/><circle r="1.8" fill="#b88a7c"/></g><g transform="translate(162.8,164.3)"><path d="M8.86,0.89 L7.49,2.52 L7.59,4.64 L5.65,5.52 L4.83,7.48 L2.70,7.42 L1.10,8.83 L-0.79,7.86 L-2.84,8.44 L-4.12,6.74 L-6.22,6.37 L-6.64,4.28 L-8.36,3.04 L-7.84,0.98 L-8.86,-0.89 L-7.49,-2.52 L-7.59,-4.64 L-5.65,-5.52 L-4.83,-7.48 L-2.70,-7.42 L-1.10,-8.83 L0.79,-7.86 L2.84,-8.44 L4.12,-6.74 L6.22,-6.37 L6.64,-4.28 L8.36,-3.04 L7.84,-0.98Z" fill="#353a4a"/><circle r="8.2" fill="url(#gsB)"/><circle r="1.8" fill="#b88a7c"/></g><g transform="translate(153.2,177.3)"><path d="M8.86,0.89 L7.49,2.52 L7.59,4.64 L5.65,5.52 L4.83,7.48 L2.70,7.42 L1.10,8.83 L-0.79,7.86 L-2.84,8.44 L-4.12,6.74 L-6.22,6.37 L-6.64,4.28 L-8.36,3.04 L-7.84,0.98 L-8.86,-0.89 L-7.49,-2.52 L-7.59,-4.64 L-5.65,-5.52 L-4.83,-7.48 L-2.70,-7.42 L-1.10,-8.83 L0.79,-7.86 L2.84,-8.44 L4.12,-6.74 L6.22,-6.37 L6.64,-4.28 L8.36,-3.04 L7.84,-0.98Z" fill="#353a4a"/><circle r="8.2" fill="url(#gsB)"/><circle r="1.8" fill="#b88a7c"/></g><g transform="translate(171.4,174.7)"><path d="M8.86,0.89 L7.49,2.52 L7.59,4.64 L5.65,5.52 L4.83,7.48 L2.70,7.42 L1.10,8.83 L-0.79,7.86 L-2.84,8.44 L-4.12,6.74 L-6.22,6.37 L-6.64,4.28 L-8.36,3.04 L-7.84,0.98 L-8.86,-0.89 L-7.49,-2.52 L-7.59,-4.64 L-5.65,-5.52 L-4.83,-7.48 L-2.70,-7.42 L-1.10,-8.83 L0.79,-7.86 L2.84,-8.44 L4.12,-6.74 L6.22,-6.37 L6.64,-4.28 L8.36,-3.04 L7.84,-0.98Z" fill="#353a4a"/><circle r="8.2" fill="url(#gsB)"/><circle r="1.8" fill="#b88a7c"/></g><g transform="translate(153.2,191.2)"><path d="M8.86,0.89 L7.49,2.52 L7.59,4.64 L5.65,5.52 L4.83,7.48 L2.70,7.42 L1.10,8.83 L-0.79,7.86 L-2.84,8.44 L-4.12,6.74 L-6.22,6.37 L-6.64,4.28 L-8.36,3.04 L-7.84,0.98 L-8.86,-0.89 L-7.49,-2.52 L-7.59,-4.64 L-5.65,-5.52 L-4.83,-7.48 L-2.70,-7.42 L-1.10,-8.83 L0.79,-7.86 L2.84,-8.44 L4.12,-6.74 L6.22,-6.37 L6.64,-4.28 L8.36,-3.04 L7.84,-0.98Z" fill="#353a4a"/><circle r="8.2" fill="url(#gsB)"/><circle r="1.8" fill="#b88a7c"/></g><g transform="translate(172.3,189.4)"><path d="M8.86,0.89 L7.49,2.52 L7.59,4.64 L5.65,5.52 L4.83,7.48 L2.70,7.42 L1.10,8.83 L-0.79,7.86 L-2.84,8.44 L-4.12,6.74 L-6.22,6.37 L-6.64,4.28 L-8.36,3.04 L-7.84,0.98 L-8.86,-0.89 L-7.49,-2.52 L-7.59,-4.64 L-5.65,-5.52 L-4.83,-7.48 L-2.70,-7.42 L-1.10,-8.83 L0.79,-7.86 L2.84,-8.44 L4.12,-6.74 L6.22,-6.37 L6.64,-4.28 L8.36,-3.04 L7.84,-0.98Z" fill="#353a4a"/><circle r="8.2" fill="url(#gsB)"/><circle r="1.8" fill="#b88a7c"/></g><g transform="translate(186.0,72.0)"><path d="M8.86,0.89 L7.49,2.52 L7.59,4.64 L5.65,5.52 L4.83,7.48 L2.70,7.42 L1.10,8.83 L-0.79,7.86 L-2.84,8.44 L-4.12,6.74 L-6.22,6.37 L-6.64,4.28 L-8.36,3.04 L-7.84,0.98 L-8.86,-0.89 L-7.49,-2.52 L-7.59,-4.64 L-5.65,-5.52 L-4.83,-7.48 L-2.70,-7.42 L-1.10,-8.83 L0.79,-7.86 L2.84,-8.44 L4.12,-6.74 L6.22,-6.37 L6.64,-4.28 L8.36,-3.04 L7.84,-0.98Z" fill="#353a4a"/><circle r="8.2" fill="url(#gsB)"/><circle r="1.8" fill="#b88a7c"/></g><g transform="translate(182.0,87.0)"><path d="M8.86,0.89 L7.49,2.52 L7.59,4.64 L5.65,5.52 L4.83,7.48 L2.70,7.42 L1.10,8.83 L-0.79,7.86 L-2.84,8.44 L-4.12,6.74 L-6.22,6.37 L-6.64,4.28 L-8.36,3.04 L-7.84,0.98 L-8.86,-0.89 L-7.49,-2.52 L-7.59,-4.64 L-5.65,-5.52 L-4.83,-7.48 L-2.70,-7.42 L-1.10,-8.83 L0.79,-7.86 L2.84,-8.44 L4.12,-6.74 L6.22,-6.37 L6.64,-4.28 L8.36,-3.04 L7.84,-0.98Z" fill="#353a4a"/><circle r="8.2" fill="url(#gsB)"/><circle r="1.8" fill="#b88a7c"/></g><g transform="translate(182.7,103.9)"><path d="M8.86,0.89 L7.49,2.52 L7.59,4.64 L5.65,5.52 L4.83,7.48 L2.70,7.42 L1.10,8.83 L-0.79,7.86 L-2.84,8.44 L-4.12,6.74 L-6.22,6.37 L-6.64,4.28 L-8.36,3.04 L-7.84,0.98 L-8.86,-0.89 L-7.49,-2.52 L-7.59,-4.64 L-5.65,-5.52 L-4.83,-7.48 L-2.70,-7.42 L-1.10,-8.83 L0.79,-7.86 L2.84,-8.44 L4.12,-6.74 L6.22,-6.37 L6.64,-4.28 L8.36,-3.04 L7.84,-0.98Z" fill="#353a4a"/><circle r="8.2" fill="url(#gsB)"/><circle r="1.8" fill="#b88a7c"/></g><path d="M190,52 Q191,41 203,41 L240,41 Q258,42 258,62 L258,186 Q250,204 216,206 Q184,206 176,198 Z" fill="url(#yelOv)"/><ellipse cx="196" cy="165" rx="14" ry="34" fill="#d0dcb4" fill-opacity="0.28"/><path d="M136,166 L136,76 Q139,50 154,46 L198,46 Q203,47 202,56 L186,201 L134,201 Q129,200 129,196 L129,192 Q135,185 136,166 Z" fill="url(#blueOv)"/><ellipse cx="160" cy="178" rx="26" ry="26" fill="#b8c4e4" fill-opacity="0.22"/><path d="M136,166 L136,76 Q138,60 144,52 L144,201 L134,201 Q129,200 129,196 L129,192 Q135,185 136,166 Z" fill="#b0bfe2" fill-opacity="0.55"/><path d="M195,52 Q196,42 205,42 L209,42 Q216,43 216,52 L214,98 Q211,110 204,110 Q196,108 194,98 Z" fill="#cdd2bc" fill-opacity="0.5"/><circle cx="206" cy="60" r="8.5" fill="#bfc6ae" fill-opacity="0.4"/><circle cx="205" cy="78" r="8.5" fill="#bfc6ae" fill-opacity="0.4"/><circle cx="204" cy="95" r="8.5" fill="#bfc6ae" fill-opacity="0.4"/><rect x="255.3" y="64.0" width="9.699999999999989" height="141.0" fill="url(#gdlFront)"/><path d="M151.5,34 L269,34 L269,31 L277.5,37 L269,43 L269,40 L151.5,40Z" fill="url(#arrB)"/><path d="M255,208.3 L138,208.3 L138,205.3 L132.5,210.8 L138,216.3 L138,213.3 L255,213.3Z" fill="url(#arrG)"/><text x="171" y="29.9" font-family="Liberation Sans" font-weight="bold" stroke-width="0.3" font-size="12.5" fill="#4868aa">PA Decrease</text><text x="153" y="230.7" font-family="Liberation Sans" font-weight="bold" stroke-width="0.3" font-size="12.6" fill="#b9d6a2">EDTMPA Decrease</text><text x="55" y="121" font-family="Liberation Sans" font-weight="bold" stroke-width="0.3" font-size="12.4" fill="#111" stroke="#111">Membrane</text><text x="292" y="121" font-family="Liberation Sans" font-weight="bold" stroke-width="0.3" font-size="12.4" fill="#111" stroke="#111">GDL</text></svg>
<div class="cap" style="left:5px;top:217px;font-size:17.6px;line-height:23px;">Image:</div>
<div class="cap" style="left:5px;top:255.7px;width:692.5px;font-size:17.6px;line-height:23px;text-align:justify;text-align-last:left;">Schematic diagram of the gradient dual-proton conducting catalytic Llayers structure and performance curve</div>
</body></html>
